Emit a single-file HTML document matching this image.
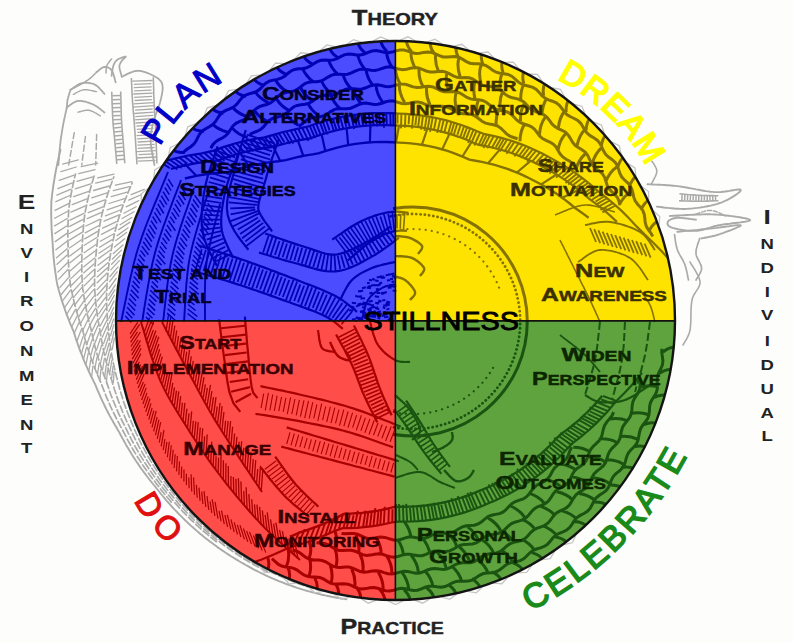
<!DOCTYPE html><html><head><meta charset="utf-8"><style>html,body{margin:0;padding:0;background:#fdfdfb;width:793px;height:643px;overflow:hidden}svg{display:block}text{font-family:"Liberation Sans",sans-serif}</style></head><body><svg width="793" height="643" viewBox="0 0 793 643"><defs><clipPath id="cc"><circle cx="395.50" cy="320.50" r="279.50"/></clipPath><clipPath id="q_blue"><path d="M395.50,320.50 L116.00,320.50 A279.50,279.50 0 0 1 395.50,41.00 Z"/></clipPath><clipPath id="q_yellow"><path d="M395.50,320.50 L395.50,41.00 A279.50,279.50 0 0 1 675.00,320.50 Z"/></clipPath><clipPath id="q_red"><path d="M395.50,320.50 L395.50,600.00 A279.50,279.50 0 0 1 116.00,320.50 Z"/></clipPath><clipPath id="q_green"><path d="M395.50,320.50 L675.00,320.50 A279.50,279.50 0 0 1 395.50,600.00 Z"/></clipPath><path id="p_PLAN" d="M160.14,146.80 A141.00,141.00 0 0 1 357.90,85.39"/><path id="p_DREAM" d="M556.77,79.14 A205.00,205.00 0 0 1 657.94,332.71"/><path id="p_DO" d="M134.14,500.21 A120.00,120.00 0 0 0 334.83,526.63"/><path id="p_CELEBRATE" d="M530.32,611.33 A360.00,360.00 0 0 0 706.29,166.87"/></defs><rect width="793" height="643" fill="#fdfdfb"/><path d="M346.4,599.2 L343.9,598.8 L341.5,598.5 L339.0,598.1 L336.6,597.7 L334.2,597.2 L331.7,596.8 L329.3,596.3 L326.9,595.8 L324.4,595.2 L322.0,594.7 L319.6,594.1 L317.2,593.5 L314.8,592.9 L312.4,592.3 L310.0,591.6 L307.6,591.0 L305.2,590.3 L302.9,589.6 L300.5,588.8 L298.1,588.1 L295.8,587.3 L293.4,586.5 L291.0,585.7 L288.7,584.8 L286.4,584.0 L284.0,583.1 L281.7,582.2 L279.4,581.3 L277.1,580.3 L274.8,579.3 L272.5,578.4 L270.2,577.4 L267.9,576.3 L265.7,575.3 L263.4,574.2 L261.2,573.1 L258.9,572.0 L256.7,570.9 L254.5,569.8 L252.3,568.6 L250.1,567.4 L247.9,566.2 L245.7,565.0 L243.5,563.7 L241.3,562.5 L239.2,561.2 L237.0,559.9 L234.9,558.6 L232.7,557.3 L230.6,556.0 L228.5,554.6 L226.4,553.2 L224.3,551.8 L222.2,550.4 L220.2,549.0 L218.1,547.6 L216.1,546.1 L214.0,544.6 L212.0,543.1 L210.0,541.6 L208.0,540.0 L206.0,538.5 L204.0,536.9 L202.1,535.3 L200.1,533.7 L198.2,532.1 L196.3,530.4 L194.4,528.7 L192.5,527.1 L190.6,525.4 L188.8,523.7 L186.9,521.9 L185.1,520.2 L183.3,518.4 L181.5,516.6 L179.7,514.8 L177.9,513.0 L176.2,511.2 L174.4,509.3 L172.7,507.5 L171.0,505.6 L169.3,503.7 L167.6,501.8 L165.9,499.9 L164.3,497.9 L162.7,496.0 L161.0,494.0 L159.5,492.0 L157.9,490.0 L156.3,488.0 L154.7,486.0 L153.0,484.0 L151.4,482.0 L149.8,480.0 L148.3,478.0 L146.7,476.0 L145.2,473.9 L143.6,471.8 L142.1,469.8 L140.6,467.7 L139.1,465.5 L137.7,463.4 L136.2,461.3 L134.8,459.1 L133.4,456.9 L132.0,454.7 L130.7,452.5 L129.3,450.3 L128.0,448.1 L126.7,445.9 L125.4,443.6 L124.1,441.3 L122.9,439.1 L121.6,436.8 L120.4,434.5 L119.2,432.1 L117.8,429.9 L116.5,427.6 L115.1,425.3 L113.8,423.0 L112.5,420.7 L111.2,418.4 L109.9,416.1 L108.7,413.7 L107.4,411.3 L106.2,408.9 L105.0,406.5 L103.9,404.1 L102.7,401.7 L101.6,399.3 L100.5,396.8 L99.4,394.3 L98.3,391.9 L97.2,389.4 L96.2,386.8 L95.2,384.3 L93.9,381.9 L92.7,379.4 L91.4,376.9 L90.2,374.3 L89.0,371.8 L87.8,369.2 L86.7,366.7 L85.5,364.1 L84.4,361.5 L83.3,358.8 L82.3,356.2 L81.2,353.5 L80.2,350.9 L79.2,348.2 L78.2,345.5 L77.3,342.8 L76.3,340.0 L75.4,337.3 L74.6,334.5 L73.7,331.7 L72.5,329.0 L71.3,326.2 L70.1,323.3 L69.0,320.5 L67.9,317.6 L66.8,314.8 L65.7,311.9 L64.7,308.9 L63.7,306.0 L62.7,303.1 L61.7,300.1 L60.8,297.1 L59.9,294.1 L59.0,291.1 L58.2,288.0 L57.4,285.0 L56.8,281.9 L56.3,278.9 L55.9,275.8 L55.4,272.7 L55.0,269.6 L54.6,266.5 L54.2,263.4 L53.9,260.3 L53.6,257.1 L53.3,254.0 L53.1,250.8 L52.9,247.7 L52.7,244.5 L52.5,241.3 L52.3,238.1 L52.0,234.9 L51.8,231.6 L51.6,228.4 L51.5,225.1 L51.4,221.8 L51.3,218.5 L51.2,215.2 L51.2,211.9 L51.2,208.6 L51.3,205.3 L51.3,202.0 L51.7,198.7 L52.0,195.5 L52.4,192.2 L52.9,189.0 L53.3,185.7 L53.8,182.5 L54.4,179.2 L54.9,175.9 L55.5,172.7 L56.1,169.4 L56.8,166.1 L57.4,162.9 L58.2,159.6 L58.9,156.3 L59.7,153.1 L60.5,149.8" fill="none" stroke="#aaaaaa" stroke-width="1.90" stroke-linecap="round" /><path d="M323.0,591.2 L320.1,590.5 L317.3,589.7 L314.5,588.9 L311.7,588.0 L308.9,587.2 L306.1,586.3 L303.3,585.3 L300.5,584.4 L297.7,583.4 L295.0,582.3 L292.2,581.3 L289.5,580.2 L286.8,579.1 L284.1,578.0 L281.4,576.8 L278.7,575.6 L276.0,574.4 L273.4,573.2 L270.7,571.9 L268.1,570.6 L265.5,569.2 L262.9,567.9 L260.3,566.5 L257.7,565.1 L255.1,563.6 L252.6,562.2 L250.0,560.7 L247.5,559.2 L245.0,557.6 L242.5,556.0 L240.1,554.4 L237.6,552.8 L235.2,551.2 L232.8,549.5 L230.3,547.8 L228.0,546.1 L225.6,544.3 L223.2,542.6 L220.9,540.8 L218.6,539.0 L216.3,537.1 L214.0,535.2 L211.8,533.3 L209.5,531.4 L207.3,529.5 L205.1,527.5 L203.0,525.5 L200.8,523.5 L198.7,521.5 L196.6,519.4 L194.5,517.4 L192.4,515.3 L190.4,513.1 L188.3,511.0 L186.3,508.8 L184.4,506.7 L182.4,504.4 L180.5,502.2 L178.6,500.0 L176.7,497.7 L174.8,495.4 L173.0,493.1 L171.1,490.8 L169.4,488.4 L167.6,486.1 L165.9,483.7 L164.1,481.3 L162.4,478.9 L160.7,476.5 L159.1,474.0 L157.4,471.6 L155.8,469.1 L154.2,466.6 L152.7,464.1 L151.1,461.6 L149.6,459.0 L148.1,456.5 L146.7,453.9 L145.3,451.3 L143.9,448.7 L142.5,446.1 L141.1,443.5 L139.8,440.8 L138.5,438.1 L137.3,435.5 L136.0,432.8 L134.8,430.1 L133.7,427.4 L132.5,424.6 L131.3,421.9 L130.2,419.2 L129.1,416.4 L128.0,413.7 L126.9,410.9 L125.9,408.1 L124.9,405.3 L123.9,402.5 L123.0,399.7 L122.1,396.8 L121.2,394.0 L120.4,391.1 L119.5,388.3 L118.8,385.4 L118.0,382.5 L117.3,379.6 L116.5,376.8 L115.8,373.9 L115.1,371.0 L114.4,368.0 L113.8,365.1 L113.1,362.2 L112.6,359.3 L112.0,356.3 L111.5,353.4 L111.0,350.4 L110.5,347.4 L110.1,344.5 L109.7,341.5 L109.3,338.5 L109.0,335.5 L108.7,332.5 L108.4,329.5 L108.1,326.5 L107.8,323.5 L107.5,320.5 L107.3,317.5 L107.1,314.5 L107.0,311.4 L106.8,308.4 L106.7,305.4 L106.7,302.3 L106.6,299.3 L106.6,296.2 L106.6,293.2 L106.7,290.1 L106.9,287.1 L107.0,284.1 L107.2,281.0 L107.5,278.0 L107.8,274.9 L108.1,271.9 L108.4,268.8 L108.8,265.8 L109.2,262.8 L109.6,259.7 L110.1,256.7 L110.6,253.7 L111.1,250.6 L111.7,247.6 L112.2,244.6 L112.8,241.6 L113.5,238.6 L114.1,235.5 L114.8,232.5 L115.6,229.5 L116.3,226.5 L117.1,223.6 L118.0,220.6 L118.9,217.6 L119.9,214.7 L120.8,211.8 L121.8,208.8 L122.9,205.9 L123.9,203.0 L125.0,200.1 L126.2,197.2 L127.3,194.3 L128.5,191.4 L129.7,188.6 L131.0,185.7 L132.3,182.9" fill="none" stroke="#aaaaaa" stroke-width="1.70" stroke-linecap="round" stroke-dasharray="7 3"/><path d="M267.5,571.7 L264.9,570.4 L262.2,569.1 L259.6,567.7 L257.0,566.3 L254.4,564.9 L251.9,563.4 L249.3,561.9 L246.8,560.4 L244.2,558.9 L241.7,557.3 L239.2,555.7 L236.7,554.1 L234.3,552.5 L231.8,550.8 L229.4,549.1 L227.0,547.4 L224.6,545.7 L222.2,543.9 L219.8,542.1 L217.5,540.3 L215.2,538.5 L212.9,536.6 L210.6,534.7 L208.3,532.8 L206.1,530.9 L203.8,528.9 L201.6,527.0 L199.4,525.0 L197.3,522.9 L195.1,520.9 L193.0,518.8 L190.9,516.7 L188.8,514.6 L186.7,512.5 L184.7,510.3 L182.7,508.1 L180.7,505.9 L178.7,503.7 L176.8,501.4 L174.9,499.2 L173.0,496.9 L171.1,494.6 L169.2,492.2 L167.4,489.9 L165.6,487.5 L163.8,485.1 L162.1,482.7 L160.3,480.4 L158.5,477.9 L156.8,475.5 L155.1,473.1 L153.4,470.6 L151.8,468.1 L150.2,465.6 L148.6,463.1 L147.0,460.5 L145.5,458.0 L143.9,455.4 L142.4,452.8 L141.0,450.2 L139.5,447.6 L138.1,444.9 L136.7,442.3 L135.4,439.6 L134.1,436.9 L132.8,434.2 L131.5,431.5 L130.2,428.7 L129.0,426.0 L127.7,423.3 L126.4,420.6 L125.2,417.8 L124.0,415.0 L122.8,412.3 L121.7,409.5 L120.6,406.7 L119.5,403.8 L118.4,401.0 L117.4,398.1 L116.4,395.3 L115.5,392.4 L114.5,389.5 L113.6,386.6 L112.7,383.7 L111.9,380.8 L110.9,377.9 L110.0,375.0 L109.1,372.0 L108.3,369.1 L107.4,366.1 L106.6,363.2 L105.9,360.2 L105.1,357.2 L104.4,354.2 L103.7,351.2 L103.1,348.1 L102.5,345.1 L101.9,342.1 L101.3,339.0 L100.8,335.9 L100.3,332.9 L99.8,329.8 L99.2,326.7 L98.7,323.6 L98.1,320.5 L97.6,317.4 L97.2,314.3 L96.7,311.1 L96.4,308.0 L96.0,304.8 L95.7,301.6 L95.4,298.5 L95.1,295.3 L94.9,292.1 L94.7,288.9 L94.6,285.7 L94.6,282.5 L94.6,279.3 L94.7,276.1 L94.8,272.9 L94.9,269.7 L95.1,266.4 L95.3,263.2 L95.5,260.0 L95.8,256.8 L96.1,253.6 L96.4,250.4 L96.7,247.1 L97.1,243.9 L97.4,240.6 L97.9,237.4 L98.3,234.2 L98.8,230.9 L99.3,227.7 L99.9,224.4 L100.5,221.2 L101.1,218.0 L101.9,214.8 L102.7,211.6 L103.5,208.4 L104.4,205.2 L105.3,202.1 L106.2,198.9 L107.2,195.7 L108.2,192.6 L109.3,189.5 L110.3,186.3 L111.5,183.2 L112.6,180.1 L113.8,177.0" fill="none" stroke="#aaaaaa" stroke-width="1.70" stroke-linecap="round" stroke-dasharray="7 3"/><path d="M216.4,541.7 L214.0,539.9 L211.7,538.0 L209.4,536.2 L207.1,534.2 L204.8,532.3 L202.5,530.4 L200.3,528.4 L198.0,526.4 L195.8,524.4 L193.7,522.3 L191.5,520.3 L189.4,518.2 L187.3,516.1 L185.2,513.9 L183.1,511.8 L181.0,509.6 L179.0,507.4 L177.0,505.1 L175.0,502.9 L173.1,500.6 L171.1,498.3 L169.2,496.0 L167.3,493.7 L165.5,491.3 L163.6,489.0 L161.8,486.6 L160.0,484.2 L158.2,481.8 L156.3,479.4 L154.6,477.0 L152.8,474.5 L151.1,472.1 L149.4,469.6 L147.7,467.1 L146.0,464.5 L144.4,462.0 L142.8,459.4 L141.2,456.9 L139.6,454.3 L138.1,451.7 L136.6,449.0 L135.1,446.4 L133.7,443.7 L132.2,441.0 L130.9,438.3 L129.5,435.6 L128.1,432.9 L126.8,430.1 L125.5,427.4 L124.1,424.7 L122.7,422.0 L121.3,419.2 L120.0,416.4 L118.7,413.6 L117.5,410.8 L116.3,408.0 L115.1,405.2 L113.9,402.3 L112.7,399.4 L111.6,396.6 L110.5,393.7 L109.5,390.8 L108.5,387.8 L107.5,384.9 L106.5,381.9 L105.4,379.0 L104.3,376.1 L103.2,373.1 L102.1,370.1 L101.1,367.1 L100.1,364.1 L99.2,361.1 L98.2,358.1 L97.3,355.0 L96.5,351.9 L95.6,348.8 L94.8,345.7 L94.1,342.6 L93.3,339.5 L92.6,336.4 L92.0,333.2 L91.2,330.1 L90.4,326.9 L89.5,323.7 L88.7,320.5 L88.0,317.3 L87.2,314.0 L86.5,310.8 L85.9,307.5 L85.3,304.2 L84.7,300.9 L84.1,297.6 L83.6,294.3 L83.1,291.0 L82.6,287.6 L82.4,284.3 L82.2,280.9 L82.0,277.6 L81.9,274.2 L81.8,270.8 L81.8,267.4 L81.8,264.1 L81.8,260.7 L81.9,257.3 L81.9,253.9 L82.1,250.4 L82.2,247.0 L82.3,243.6 L82.5,240.1 L82.7,236.7 L82.9,233.2 L83.2,229.8 L83.5,226.3 L83.8,222.8 L84.2,219.3 L84.6,215.9 L85.1,212.4 L85.8,209.0 L86.5,205.6 L87.2,202.1 L88.0,198.7 L88.8,195.3 L89.6,191.9 L90.5,188.5 L91.4,185.1 L92.4,181.7 L93.4,178.3 L94.4,174.9" fill="none" stroke="#aaaaaa" stroke-width="1.70" stroke-linecap="round" stroke-dasharray="7 3"/><path d="M171.3,502.1 L169.3,499.8 L167.3,497.5 L165.4,495.1 L163.5,492.8 L161.6,490.4 L159.8,488.0 L157.9,485.6 L156.0,483.2 L154.2,480.8 L152.3,478.4 L150.5,476.0 L148.7,473.5 L146.9,471.0 L145.2,468.5 L143.4,466.0 L141.7,463.5 L140.1,460.9 L138.4,458.3 L136.8,455.7 L135.2,453.1 L133.6,450.5 L132.1,447.8 L130.6,445.2 L129.1,442.5 L127.6,439.8 L126.2,437.0 L124.8,434.3 L123.4,431.5 L121.9,428.8 L120.4,426.1 L119.0,423.3 L117.5,420.6 L116.1,417.8 L114.7,415.0 L113.3,412.2 L111.9,409.4 L110.6,406.5 L109.3,403.6 L108.1,400.8 L106.8,397.8 L105.6,394.9 L104.5,392.0 L103.3,389.0 L102.2,386.1 L101.1,383.1 L99.8,380.1 L98.5,377.2 L97.2,374.2 L96.0,371.2 L94.8,368.1 L93.6,365.1 L92.5,362.0 L91.4,358.9 L90.3,355.8 L89.2,352.7 L88.2,349.5 L87.2,346.4 L86.3,343.2 L85.3,340.0 L84.4,336.8 L83.6,333.6 L82.7,330.3 L81.5,327.1 L80.4,323.8 L79.3,320.5 L78.3,317.2 L77.3,313.8 L76.3,310.5 L75.4,307.1 L74.5,303.7 L73.7,300.3 L72.8,296.8 L72.1,293.3 L71.3,289.9 L70.6,286.4 L70.2,282.9 L69.8,279.4 L69.4,275.8 L69.1,272.3 L68.9,268.8 L68.6,265.2 L68.4,261.7 L68.3,258.1 L68.2,254.5 L68.1,250.9 L68.1,247.3 L68.0,243.7 L67.9,240.0 L67.9,236.4 L67.9,232.7 L67.9,229.0 L68.0,225.4 L68.1,221.7 L68.3,218.0 L68.5,214.2 L68.7,210.5 L69.1,206.8 L69.6,203.2 L70.2,199.5 L70.8,195.9 L71.5,192.2 L72.2,188.6 L73.0,184.9 L73.8,181.3 L74.6,177.6 L75.5,174.0" fill="none" stroke="#aaaaaa" stroke-width="1.70" stroke-linecap="round" stroke-dasharray="7 3"/><path d="M114.4,338.2 L112.2,349.3 M114.0,331.5 L111.4,342.6 M113.7,324.9 L110.5,335.9 M113.6,319.0 L109.9,329.9 M113.6,312.8 L109.3,323.6 M113.7,307.6 L109.0,318.3 M114.0,301.1 L108.7,311.7 M114.4,295.2 L108.5,305.7 M114.8,289.9 L108.5,300.2 M115.4,284.9 L108.7,295.1 M116.2,278.5 L109.0,288.5 M117.2,271.8 L109.6,281.6 M118.1,266.9 L110.0,276.5 M119.3,260.6 L110.8,269.9 M120.5,255.1 L111.6,264.2 M121.6,250.1 L112.4,259.0 M123.0,244.9 L113.3,253.5 M124.7,238.8 L114.5,247.1 M126.5,232.5 L115.9,240.5 M128.1,227.8 L117.1,235.6 M130.0,222.1 L118.7,229.6 M131.7,217.5 L120.1,224.7 M134.0,211.7 L122.1,218.5 M136.1,206.7 L123.9,213.2 M138.8,200.7 L126.2,206.8 M141.7,194.5 L128.7,200.2 M144.3,189.3 L131.1,194.7 M114.1,371.4 L113.3,382.7 M113.0,366.2 L111.7,377.5 M111.8,360.5 L110.0,371.8 M110.7,354.5 L108.4,365.8 M109.8,349.0 L107.0,360.3 M109.0,343.5 L105.8,354.7 M108.3,338.0 L104.6,349.2 M107.7,332.3 L103.6,343.5 M107.1,326.3 L102.3,337.3 M106.6,320.7 L101.2,331.7 M106.2,315.0 L100.2,325.9 M105.8,308.5 L99.2,319.2 M105.7,303.5 L98.6,314.0 M105.6,297.4 L97.9,307.7 M105.7,290.9 L97.3,301.0 M106.0,285.3 L97.1,295.2 M106.3,279.9 L97.0,289.6 M106.9,273.3 L97.1,282.7 M107.5,267.8 L97.2,277.0 M108.2,262.5 L97.5,271.4 M109.1,256.7 L97.9,265.3 M110.2,250.3 L98.4,258.6 M111.1,245.2 L98.9,253.2 M112.2,239.6 L99.6,247.3 M113.5,234.0 L100.3,241.3 M115.1,227.4 L101.4,234.3 M116.6,221.7 L102.6,228.2 M118.7,215.1 L104.1,221.2 M120.4,210.0 L105.5,215.8 M122.3,204.6 L107.1,209.9 M124.5,198.6 L109.0,203.5 M127.1,192.2 L111.2,196.6 M129.5,186.6 L113.3,190.6 M131.9,181.6 L115.4,185.2 M107.5,370.2 L106.5,381.5 M106.2,365.3 L104.7,376.6 M104.4,358.6 L102.5,369.9 M103.0,352.3 L100.4,363.6 M101.5,345.5 L98.4,356.7 M100.3,338.7 L96.6,349.9 M99.2,331.8 L95.0,342.9 M98.0,325.6 L93.2,336.6 M97.1,320.5 L91.8,331.4 M96.1,313.8 L90.1,324.6 M95.4,308.3 L88.8,319.0 M94.8,302.5 L87.6,313.0 M94.2,295.9 L86.4,306.2 M93.7,289.6 L85.3,299.7 M93.6,283.5 L84.7,293.4 M93.7,276.2 L84.2,285.9 M93.9,269.7 L83.9,279.1 M94.3,263.7 L83.8,272.8 M94.7,257.9 L83.8,266.8 M95.4,250.8 L83.9,259.3 M96.0,244.5 L84.1,252.7 M96.8,237.5 L84.3,245.3 M97.7,231.4 L84.7,238.9 M98.6,225.7 L85.2,232.9 M99.8,219.3 L85.9,226.0 M101.5,212.3 L87.2,218.6 M102.9,206.8 L88.3,212.7 M104.9,199.9 L89.8,205.4 M107.1,192.8 L91.7,197.8 M109.4,186.0 L93.6,190.5 M111.9,179.2 L95.7,183.2 M114.0,174.1 L97.6,177.8 M100.9,369.6 L99.8,380.9 M99.0,364.0 L97.4,375.3 M97.0,357.4 L94.8,368.7 M95.2,351.1 L92.5,362.4 M93.7,345.2 L90.5,356.4 M92.3,339.3 L88.6,350.5 M90.9,333.1 L86.8,344.2 M89.2,326.4 L84.5,337.5 M87.7,320.3 L82.3,331.2 M86.1,313.5 L80.1,324.3 M84.8,307.2 L78.2,317.9 M83.7,301.3 L76.5,311.8 M82.6,294.7 L74.8,305.0 M81.7,287.7 L73.2,297.8 M81.3,282.1 L72.4,292.0 M81.0,275.6 L71.6,285.3 M80.8,269.2 L70.9,278.6 M80.8,261.6 L70.4,270.8 M81.0,253.9 L70.0,262.8 M81.2,247.5 L69.8,256.0 M81.5,239.8 L69.5,248.0 M82.0,232.4 L69.4,240.1 M82.5,226.1 L69.5,233.5 M83.2,219.3 L69.7,226.4 M83.9,213.4 L70.0,220.1 M85.4,205.9 L71.0,212.2 M86.9,198.8 L72.2,204.7 M88.8,191.3 L73.6,196.7 M90.7,183.9 L75.2,188.8 M92.8,176.9 L76.9,181.3 M95.1,169.7 L78.8,173.7 M97.7,163.1 L81.2,166.7 M92.9,366.1 L91.6,377.3 M90.7,359.9 L88.9,371.2 M88.3,353.1 L86.0,364.3 M86.5,347.4 L83.7,358.7 M84.8,341.8 L81.6,353.0 M83.2,336.1 L79.6,347.2 M81.3,329.5 L77.2,340.5 M79.0,322.5 L74.1,333.4 M77.0,316.2 L71.6,327.0 M75.2,309.9 L69.2,320.6 M73.5,303.4 L66.9,314.0 M71.9,297.0 L64.8,307.4 M70.4,290.4 L62.7,300.6 M69.4,284.5 L61.2,294.5 M68.6,277.6 L60.0,287.4 M67.9,269.5 L58.7,279.1 M67.5,262.7 L57.8,272.1 M67.2,255.1 L57.0,264.2 M67.1,248.8 L56.5,257.7 M67.0,241.3 L55.9,249.8 M66.9,233.4 L55.2,241.6 M67.0,225.8 L54.8,233.6 M67.3,218.5 L54.6,225.9 M67.7,211.2 L54.6,218.3 M68.6,203.6 L55.0,210.3 M69.9,195.5 L55.9,201.7 M71.1,189.1 L56.8,195.1 M72.4,182.9 L57.8,188.6 M74.2,175.2 L59.2,180.3 M76.3,167.0 L60.9,171.7 M78.3,159.8 L62.6,164.1" fill="none" stroke="#aaaaaa" stroke-width="1.30" stroke-linecap="round" /><path d="M111.6,75.8 L111.6,75.4 L111.7,75.0 L111.8,74.4 L111.9,73.8 L111.9,73.2 L112.0,72.5 L112.2,71.8 L112.3,71.0 L112.4,70.2 L112.5,69.5 L112.6,68.7 L112.8,68.0 L112.9,67.3 L113.1,66.7 L113.3,66.1 L113.4,65.5 L113.6,65.0 L113.8,64.6 L114.0,64.2 L114.1,63.7 L114.3,63.4 L114.5,63.0 L114.7,62.6 L114.9,62.3 L115.1,62.0 L115.3,61.7 L115.6,61.4 L115.9,61.1 L116.1,60.8 L116.5,60.5 L116.8,60.2 L117.2,59.9 L117.6,59.6 L118.1,59.3 L118.6,59.0 L119.2,58.7 L119.9,58.5 L120.5,58.2 L121.2,57.9 L121.8,57.6 L122.5,57.4 L123.1,57.2 L123.7,57.0 L124.2,56.8 L124.7,56.7 L125.1,56.6 L125.4,56.6 L125.6,56.6 L125.7,56.6 L125.7,56.7 L125.6,56.9 L125.4,57.1 L125.2,57.3 L125.0,57.6 L124.7,57.8 L124.4,58.2 L124.0,58.5 L123.7,58.8 L123.3,59.2 L123.0,59.5 L122.6,59.9 L122.3,60.2 L122.0,60.5 L121.8,60.9 L121.6,61.2 L121.4,61.5 L121.2,61.8 L121.0,62.1 L120.8,62.4 L120.6,62.7 L120.4,63.0 L120.2,63.3 L120.1,63.6 L119.9,64.0 L119.8,64.3 L119.6,64.7 L119.5,65.1 L119.5,65.5 L119.4,66.0 L119.4,66.5 L119.4,67.0 L119.5,67.6 L119.6,68.2 L119.7,68.9 L119.9,69.7 L120.1,70.4 L120.3,71.2 L120.5,71.9 L120.7,72.7 L120.9,73.4 L121.1,74.1 L121.3,74.8 L121.5,75.4 L121.6,75.9 L121.7,76.3 L121.8,76.7" fill="none" stroke="#aaaaaa" stroke-width="1.80" stroke-linecap="round" /><path d="M106.0,73.0 L106.0,72.7 L106.0,72.4 L106.0,72.0 L106.1,71.6 L106.1,71.2 L106.1,70.7 L106.1,70.2 L106.1,69.7 L106.2,69.1 L106.2,68.6 L106.3,68.0 L106.4,67.5 L106.5,67.0 L106.6,66.5 L106.7,66.0 L106.9,65.5 L107.1,65.1 L107.3,64.6 L107.6,64.1 L107.9,63.7 L108.2,63.2 L108.6,62.7 L108.9,62.2 L109.3,61.8 L109.6,61.3 L110.0,60.9 L110.3,60.5 L110.6,60.1 L110.9,59.8 L111.2,59.5 L111.4,59.2 L111.6,59.0" fill="none" stroke="#aaaaaa" stroke-width="1.50" stroke-linecap="round" /><path d="M96.6,72.1 L96.9,71.9 L97.2,71.6 L97.6,71.3 L98.0,71.0 L98.4,70.6 L98.9,70.2 L99.4,69.8 L99.9,69.3 L100.4,68.9 L101.0,68.5 L101.5,68.2 L102.1,67.8 L102.6,67.5 L103.1,67.3 L103.6,67.1 L104.1,67.0 L104.6,67.0 L105.1,67.0 L105.6,67.0 L106.0,67.0 L106.5,67.1 L107.1,67.2 L107.6,67.4 L108.0,67.5 L108.5,67.7 L109.0,68.0 L109.5,68.3 L109.9,68.6 L110.4,68.9 L110.8,69.3 L111.2,69.7 L111.6,70.2 L111.9,70.7 L112.3,71.4 L112.6,72.1 L112.9,72.9 L113.2,73.7 L113.5,74.6 L113.8,75.5 L114.1,76.4 L114.3,77.4 L114.6,78.3 L114.8,79.1 L115.0,79.9 L115.2,80.7 L115.4,81.3 L115.5,81.9 L115.7,82.3" fill="none" stroke="#aaaaaa" stroke-width="1.80" stroke-linecap="round" /><path d="M70.5,89.8 L70.9,89.5 L71.4,89.2 L71.9,88.8 L72.5,88.4 L73.1,88.0 L73.8,87.5 L74.5,86.9 L75.3,86.4 L76.1,85.9 L76.9,85.4 L77.7,84.9 L78.5,84.5 L79.3,84.1 L80.2,83.7 L80.9,83.5 L81.7,83.2 L82.5,83.1 L83.3,83.0 L84.1,82.9 L84.9,82.8 L85.8,82.8 L86.6,82.8 L87.5,82.8 L88.3,82.9 L89.2,83.0 L90.0,83.1 L90.9,83.3 L91.7,83.5 L92.5,83.7 L93.3,84.0 L94.0,84.2 L94.8,84.6 L95.5,84.9 L96.2,85.4 L96.9,85.9 L97.7,86.5 L98.4,87.2 L99.1,87.9 L99.8,88.6 L100.4,89.3 L101.1,90.0 L101.7,90.7 L102.3,91.4 L102.8,92.0 L103.3,92.6 L103.8,93.1 L104.1,93.5 L104.5,93.9" fill="none" stroke="#aaaaaa" stroke-width="1.80" stroke-linecap="round" /><path d="M73.3,94.4 L73.7,94.3 L74.1,94.0 L74.6,93.8 L75.1,93.4 L75.7,93.1 L76.3,92.7 L76.9,92.4 L77.6,92.0 L78.3,91.6 L79.1,91.3 L79.8,90.9 L80.6,90.6 L81.3,90.3 L82.1,90.1 L82.8,89.9 L83.6,89.8 L84.3,89.7 L85.2,89.7 L86.0,89.7 L87.0,89.8 L87.9,89.9 L88.8,90.1 L89.8,90.2 L90.8,90.4 L91.7,90.6 L92.6,90.8 L93.4,91.0 L94.2,91.2 L95.0,91.3 L95.6,91.5 L96.2,91.6 L96.6,91.6" fill="none" stroke="#aaaaaa" stroke-width="1.40" stroke-linecap="round" /><path d="M66.8,107.5 L67.2,107.3 L67.6,106.9 L68.1,106.5 L68.7,106.1 L69.3,105.6 L70.0,105.1 L70.7,104.6 L71.5,104.0 L72.2,103.5 L73.0,103.0 L73.8,102.5 L74.7,102.1 L75.5,101.7 L76.3,101.4 L77.2,101.1 L78.0,101.0 L78.8,100.9 L79.7,100.9 L80.6,100.9 L81.5,101.0 L82.5,101.1 L83.5,101.3 L84.4,101.5 L85.4,101.7 L86.4,102.0 L87.4,102.3 L88.4,102.6 L89.3,102.9 L90.3,103.3 L91.2,103.6 L92.1,104.0 L92.9,104.3 L93.7,104.7 L94.6,105.2 L95.5,105.7 L96.3,106.2 L97.2,106.8 L98.0,107.4 L98.8,108.0 L99.6,108.6 L100.4,109.3 L101.1,109.8 L101.8,110.4 L102.5,110.9 L103.1,111.4 L103.6,111.9 L104.1,112.2 L104.5,112.5" fill="none" stroke="#aaaaaa" stroke-width="1.80" stroke-linecap="round" /><path d="M78.0,112.2 L78.4,112.1 L78.8,112.0 L79.4,111.8 L80.0,111.7 L80.7,111.5 L81.4,111.3 L82.1,111.1 L82.9,110.9 L83.7,110.7 L84.5,110.5 L85.3,110.4 L86.1,110.3 L86.9,110.2 L87.7,110.2 L88.5,110.2 L89.2,110.3 L89.9,110.5 L90.7,110.7 L91.4,111.0 L92.2,111.3 L93.1,111.7 L93.9,112.1 L94.7,112.5 L95.5,113.0 L96.3,113.4 L97.0,113.9 L97.7,114.3 L98.4,114.7 L99.0,115.1 L99.5,115.4 L100.0,115.7 L100.4,115.9" fill="none" stroke="#aaaaaa" stroke-width="1.40" stroke-linecap="round" /><path d="M66.8,107.5 L66.7,108.1 L66.5,108.7 L66.4,109.5 L66.2,110.3 L66.0,111.2 L65.8,112.2 L65.5,113.2 L65.3,114.3 L65.1,115.4 L64.8,116.5 L64.6,117.7 L64.3,118.8 L64.1,120.0 L63.9,121.1 L63.6,122.3 L63.4,123.4 L63.2,124.4 L63.0,125.5 L62.8,126.6 L62.6,127.7 L62.4,128.8 L62.2,130.0 L62.1,131.1 L61.9,132.2 L61.7,133.4 L61.5,134.6 L61.3,135.8 L61.1,137.0 L60.9,138.2 L60.8,139.5 L60.6,140.7 L60.4,142.0 L60.3,143.4 L60.1,144.8 L60.0,146.4 L59.8,148.0 L59.7,149.6 L59.5,151.3 L59.4,153.0 L59.2,154.7 L59.1,156.3 L59.0,157.8 L58.9,159.3 L58.7,160.7 L58.6,162.0 L58.5,163.2 L58.5,164.2 L58.4,165.0" fill="none" stroke="#aaaaaa" stroke-width="1.80" stroke-linecap="round" /><path d="M70.5,89.8 L70.4,90.1 L70.3,90.5 L70.1,91.0 L70.0,91.5 L69.8,92.0 L69.6,92.6 L69.4,93.3 L69.2,93.9 L69.0,94.6 L68.8,95.3 L68.6,95.9 L68.4,96.6 L68.2,97.3 L68.0,97.9 L67.9,98.5 L67.7,99.1 L67.6,99.7 L67.5,100.3 L67.4,100.9 L67.3,101.5 L67.3,102.1 L67.2,102.7 L67.1,103.3 L67.1,103.9 L67.0,104.5 L67.0,105.0 L67.0,105.5 L66.9,106.0 L66.9,106.5 L66.9,106.9 L66.8,107.2 L66.8,107.5" fill="none" stroke="#aaaaaa" stroke-width="1.80" stroke-linecap="round" /><path d="M96.6,72.1 L96.3,72.3 L96.0,72.7 L95.6,73.1 L95.1,73.5 L94.7,74.0 L94.2,74.5 L93.6,75.1 L93.0,75.7 L92.4,76.3 L91.8,76.9 L91.1,77.5 L90.4,78.1 L89.7,78.7 L88.9,79.3 L88.1,79.9 L87.3,80.4 L86.4,81.0 L85.5,81.6 L84.4,82.3 L83.2,82.9 L82.1,83.6 L80.8,84.3 L79.6,85.0 L78.3,85.6 L77.1,86.3 L75.9,86.9 L74.8,87.5 L73.7,88.1 L72.7,88.6 L71.9,89.1 L71.1,89.4 L70.5,89.8" fill="none" stroke="#aaaaaa" stroke-width="1.60" stroke-linecap="round" /><path d="M121.8,76.7 L122.4,76.5 L123.0,76.2 L123.8,75.8 L124.7,75.4 L125.6,74.9 L126.6,74.4 L127.6,73.9 L128.7,73.4 L129.8,72.9 L131.0,72.4 L132.1,72.0 L133.3,71.6 L134.4,71.2 L135.6,71.0 L136.6,70.8 L137.7,70.7 L138.7,70.8 L139.8,70.9 L140.9,71.0 L142.0,71.3 L143.2,71.6 L144.3,71.9 L145.5,72.3 L146.6,72.7 L147.7,73.1 L148.8,73.5 L149.9,74.0 L150.9,74.5 L151.9,75.0 L152.8,75.4 L153.7,75.9 L154.5,76.3 L155.2,76.8 L156.0,77.2 L156.6,77.6 L157.3,78.0 L157.9,78.4 L158.5,78.9 L159.0,79.3 L159.6,79.8 L160.0,80.3 L160.5,80.8 L160.9,81.3 L161.2,81.9 L161.6,82.5 L161.9,83.1 L162.1,83.8 L162.3,84.6 L162.5,85.3 L162.6,86.2 L162.6,87.0 L162.7,87.9 L162.6,88.9 L162.6,89.8 L162.5,90.8 L162.3,91.9 L162.2,92.9 L162.0,94.0 L161.8,95.1 L161.5,96.3 L161.3,97.4 L161.0,98.6 L160.7,99.8 L160.4,101.0 L160.1,102.2 L159.7,103.5 L159.3,104.9 L158.9,106.2 L158.4,107.7 L157.8,109.1 L157.3,110.6 L156.7,112.0 L156.2,113.5 L155.6,115.0 L155.1,116.4 L154.6,117.9 L154.1,119.3 L153.7,120.7 L153.3,122.1 L153.0,123.4 L152.7,124.6 L152.4,125.8 L152.2,127.0 L151.9,128.2 L151.7,129.3 L151.5,130.4 L151.3,131.5 L151.2,132.7 L151.0,133.8 L150.9,134.9 L150.8,136.0 L150.8,137.1 L150.7,138.3 L150.7,139.5 L150.7,140.7 L150.7,142.0 L150.8,143.4 L151.0,144.8 L151.1,146.4 L151.3,148.0 L151.6,149.6 L151.9,151.3 L152.2,153.0 L152.5,154.7 L152.8,156.3 L153.1,157.8 L153.4,159.3 L153.7,160.7 L153.9,162.0 L154.1,163.2 L154.3,164.2 L154.5,165.0" fill="none" stroke="#aaaaaa" stroke-width="1.80" stroke-linecap="round" /><path d="M132.3,81.2 L152.7,80.5 M133.9,84.3 L151.3,83.7 M133.8,87.6 L151.6,86.9 M134.1,90.8 L151.5,90.1 M133.3,94.0 L152.6,93.2 M134.2,97.3 L152.0,96.4 M134.6,100.5 L151.9,99.6 M133.6,103.8 L153.3,102.6 M133.1,107.1 L154.1,105.7 M135.1,110.2 L152.6,109.0 M134.3,113.5 L153.8,112.1 M135.3,116.6 L153.3,115.4 M134.4,119.9 L154.6,118.5 M135.4,123.0 L154.1,121.8 M136.4,126.1 L153.5,125.0 M136.8,129.3 L153.5,128.3 M137.5,132.4 L153.1,131.5 M136.5,135.6 L154.5,134.7 M137.0,138.8 L154.4,137.9 M137.7,142.0 L154.0,141.1 M137.4,145.2 L154.6,144.3 M137.7,148.4 L154.6,147.5 M136.8,151.6 L155.9,150.7 M138.5,154.7 L154.4,153.9 M136.6,158.0 L156.7,157.0 M138.1,161.2 L155.5,160.3" fill="none" stroke="#aaaaaa" stroke-width="1.30" /><path d="M131.4,78.0 L131.5,81.2 L131.7,84.4 L131.8,87.6 L132.0,90.9 L132.1,94.1 L132.3,97.3 L132.5,100.6 L132.7,103.9 L133.0,107.1 L133.2,110.4 L133.5,113.6 L133.8,116.7 L134.0,119.9 L134.3,123.1 L134.5,126.2 L134.7,129.4 L135.0,132.5 L135.2,135.7 L135.4,138.9 L135.6,142.1 L135.8,145.3 L136.0,148.5 L136.2,151.6 L136.4,154.8 L136.6,158.0 L136.8,161.2 L137.0,164.4 M153.3,77.3 L153.4,80.5 L153.5,83.7 L153.6,86.8 L153.7,90.0 L153.7,93.2 L153.8,96.3 L154.0,99.5 L154.1,102.6 L154.3,105.7 L154.4,108.9 L154.6,112.1 L154.8,115.2 L155.0,118.5 L155.2,121.7 L155.4,124.9 L155.5,128.2 L155.7,131.4 L155.8,134.6 L155.9,137.8 L156.1,141.0 L156.2,144.2 L156.3,147.4 L156.5,150.6 L156.6,153.8 L156.7,157.0 L156.8,160.2 L156.9,163.4" fill="none" stroke="#aaaaaa" stroke-width="1.60" /><path d="M112.3,95.8 L120.4,95.5 M112.6,99.7 L120.3,99.5 M112.3,103.8 L120.8,103.5 M112.5,107.8 L120.9,107.5 M112.9,111.8 L120.7,111.5 M113.2,115.8 L120.7,115.5 M113.2,119.8 L121.2,119.4 M113.3,123.9 L121.5,123.3 M114.1,127.9 L121.3,127.3 M114.2,131.9 L122.0,131.2 M114.3,136.0 L122.6,135.2 M115.2,139.9 L122.4,139.2 M115.8,143.8 L122.5,143.3 M116.2,147.8 L122.8,147.3 M116.0,151.8 L123.6,151.2 M116.4,155.8 L123.8,155.2 M116.5,159.8 L124.4,159.2" fill="none" stroke="#aaaaaa" stroke-width="1.50" /><path d="M111.7,91.8 L111.9,95.8 L112.0,99.8 L112.1,103.8 L112.3,107.8 L112.5,111.8 L112.6,115.8 L112.9,119.9 L113.1,123.9 L113.5,128.0 L113.9,132.0 L114.3,136.0 L114.7,139.9 L115.0,143.9 L115.4,147.9 L115.7,151.8 L116.1,155.8 L116.4,159.8 L116.8,163.8 M120.7,91.5 L120.8,95.5 L120.9,99.5 L121.0,103.5 L121.1,107.5 L121.2,111.5 L121.3,115.4 L121.5,119.4 L121.7,123.3 L122.0,127.3 L122.3,131.2 L122.6,135.2 L123.0,139.2 L123.3,143.2 L123.6,147.2 L123.9,151.2 L124.2,155.2 L124.5,159.2 L124.8,163.2" fill="none" stroke="#aaaaaa" stroke-width="1.60" /><path d="M74.3,132.7 L74.2,133.3 L74.0,133.9 L73.9,134.7 L73.8,135.6 L73.6,136.5 L73.4,137.6 L73.2,138.6 L73.0,139.7 L72.8,140.9 L72.6,142.1 L72.4,143.2 L72.2,144.4 L72.0,145.6 L71.8,146.7 L71.6,147.8 L71.5,148.8 L71.3,149.9 L71.1,151.0 L70.9,152.1 L70.7,153.2 L70.5,154.4 L70.3,155.6 L70.1,156.8 L69.9,157.9 L69.7,159.0 L69.5,160.1 L69.3,161.1 L69.2,162.1 L69.0,162.9 L68.9,163.7 L68.8,164.4 L68.7,165.0" fill="none" stroke="#aaaaaa" stroke-width="1.50" stroke-linecap="round" stroke-dasharray="6 3"/><path d="M85.4,136.4 L85.4,136.9 L85.3,137.5 L85.2,138.2 L85.1,139.0 L85.0,139.8 L84.9,140.7 L84.8,141.7 L84.6,142.7 L84.5,143.7 L84.4,144.7 L84.2,145.8 L84.1,146.8 L84.0,147.8 L83.8,148.8 L83.7,149.8 L83.6,150.7 L83.5,151.6 L83.3,152.6 L83.2,153.6 L83.1,154.6 L82.9,155.6 L82.8,156.7 L82.7,157.7 L82.5,158.7 L82.4,159.7 L82.3,160.7 L82.2,161.6 L82.1,162.4 L82.0,163.2 L81.9,163.9 L81.8,164.5 L81.7,165.0" fill="none" stroke="#aaaaaa" stroke-width="1.50" stroke-linecap="round" stroke-dasharray="6 3"/><path d="M96.6,134.6 L96.6,135.1 L96.6,135.7 L96.6,136.5 L96.6,137.3 L96.5,138.2 L96.5,139.1 L96.5,140.2 L96.4,141.2 L96.4,142.3 L96.4,143.4 L96.3,144.5 L96.3,145.6 L96.3,146.7 L96.2,147.8 L96.2,148.8 L96.2,149.8 L96.1,150.7 L96.1,151.8 L96.1,152.8 L96.0,153.9 L96.0,155.0 L96.0,156.1 L95.9,157.2 L95.9,158.3 L95.9,159.4 L95.8,160.4 L95.8,161.3 L95.8,162.2 L95.8,163.1 L95.7,163.8 L95.7,164.4 L95.7,165.0" fill="none" stroke="#aaaaaa" stroke-width="1.50" stroke-linecap="round" stroke-dasharray="6 3"/><path d="M141.3,202.0 L141.3,193.8 L147.8,188.8 M153.8,178.1 L154.7,170.0 L161.6,165.7 M168.6,155.6 L170.2,147.6 L177.5,144.0 M185.4,134.6 L187.8,126.8 L195.4,123.9 M204.2,115.4 L207.3,107.8 L215.2,105.6 M224.7,98.0 L228.6,90.7 L236.6,89.3 M246.9,82.6 L251.4,75.8 L259.5,75.2 M270.3,69.5 L275.5,63.1 L283.7,63.3 M295.0,58.6 L300.7,52.8 L308.8,53.7 M320.5,50.2 L326.8,44.9 L334.8,46.6 M346.8,44.3 L353.5,39.6 L361.3,42.1 M373.5,40.9 L380.6,36.9 L388.2,40.1 M400.4,40.0 L407.9,36.8 L415.1,40.7 M427.3,41.8 L435.0,39.3 L441.8,43.8 M453.8,46.1 L461.8,44.3 L468.1,49.6 M479.8,53.0 L488.0,52.0 L493.7,57.8 M505.1,62.3 L513.3,62.1 L518.5,68.4 M529.3,74.0 L537.5,74.5 L542.1,81.3 M552.4,88.0 L560.4,89.3 L564.3,96.5 M573.9,104.1 L581.8,106.2 L585.0,113.7 M593.8,122.2 L601.5,125.0 L604.0,132.8 M611.9,142.1 L619.3,145.7 L621.0,153.7 M628.0,163.6 L635.0,167.9 L635.9,176.0 M642.0,186.7 L648.5,191.6 L648.7,199.7 M653.7,210.9 L659.7,216.4 L659.1,224.6 M575.8,535.4 L572.3,542.8 L564.3,544.5 M554.4,551.7 L550.2,558.7 L542.1,559.7 M531.5,565.8 L526.6,572.4 L518.5,572.6 M507.3,577.7 L501.9,583.8 L493.7,583.2 M482.2,587.3 L476.2,592.8 L468.1,591.4 M456.2,594.4 L449.7,599.3 L441.8,597.2 M429.7,598.9 L422.7,603.2 L415.1,600.3 M402.8,600.9 L395.5,604.5 L388.2,600.9 M375.9,600.3 L368.3,603.2 L361.3,598.9 M349.2,597.2 L341.3,599.3 L334.8,594.4 M322.9,591.4 L314.8,592.8 L308.8,587.3 M297.3,583.2 L289.1,583.8 L283.7,577.7 M272.5,572.6 L264.4,572.4 L259.5,565.8" fill="none" stroke="#c4c4c4" stroke-width="1.30" stroke-linecap="round" /><path d="M647.5,184.3 L648.5,184.3 L649.7,184.4 L651.1,184.4 L652.7,184.5 L654.3,184.6 L656.1,184.6 L658.1,184.7 L660.1,184.8 L662.1,184.9 L664.3,185.0 L666.4,185.2 L668.6,185.3 L670.8,185.5 L673.0,185.7 L675.2,185.9 L677.3,186.1 L679.5,186.4 L681.7,186.7 L684.0,187.1 L686.4,187.5 L688.8,188.0 L691.3,188.4 L693.7,188.9 L696.2,189.4 L698.7,189.8 L701.1,190.3 L703.5,190.7 L705.9,191.1 L708.2,191.4 L710.4,191.7 L712.6,191.9 L714.6,192.1 L716.7,192.1 L718.7,192.1 L720.9,192.0 L723.0,191.7 L725.2,191.5 L727.3,191.2 L729.3,190.9 L731.3,190.5 L733.1,190.2 L734.9,189.9 L736.4,189.7 L737.8,189.5 L738.9,189.4 L739.8,189.5 L740.4,189.6 L740.7,189.9 L740.8,190.3 L740.5,190.8 L740.0,191.5 L739.2,192.2 L738.2,193.0 L737.0,193.9 L735.7,194.9 L734.2,195.9 L732.6,196.9 L730.9,197.9 L729.2,198.8 L727.4,199.8 L725.5,200.7 L723.7,201.5 L722.0,202.3 L720.2,202.9 L718.5,203.5 L716.6,204.1 L714.7,204.6 L712.7,205.1 L710.6,205.6 L708.4,206.0 L706.2,206.5 L704.0,206.9 L701.8,207.2 L699.5,207.6 L697.3,207.9 L695.1,208.1 L692.9,208.4 L690.8,208.6 L688.7,208.7 L686.6,208.9 L684.6,209.0 L682.5,209.0 L680.4,208.9 L678.2,208.8 L676.0,208.7 L673.9,208.5 L671.7,208.3 L669.6,208.1 L667.6,207.9 L665.6,207.7 L663.8,207.5 L662.1,207.2 L660.5,207.0 L659.1,206.9 L657.8,206.7 L656.8,206.6" fill="none" stroke="#aaaaaa" stroke-width="1.90" stroke-linecap="round" /><path d="M681.8,200.8 L682.1,194.2 M684.6,200.3 L684.9,194.9 M687.4,200.4 L687.7,195.1 M690.2,200.5 L690.5,195.3 M693.1,200.5 L693.3,195.5 M695.9,201.0 L696.1,195.3 M698.7,201.1 L698.8,195.3 M701.5,201.1 L701.6,195.4 M704.3,200.6 L704.4,196.0 M707.2,201.0 L707.2,195.6 M710.0,200.6 L709.9,196.1 M712.8,200.5 L712.7,196.0 M715.6,200.7 L715.5,195.9" fill="none" stroke="#aaaaaa" stroke-width="1.50" /><path d="M679.0,200.8 L681.8,200.9 L684.6,201.0 L687.4,201.0 L690.2,201.1 L693.0,201.2 L695.8,201.2 L698.7,201.2 L701.5,201.2 L704.3,201.2 L707.2,201.1 L710.0,201.0 L712.8,200.9 L715.6,200.8 L718.4,200.7 M679.4,193.8 L682.2,194.0 L684.9,194.2 L687.7,194.5 L690.5,194.7 L693.3,194.9 L696.1,195.1 L698.8,195.2 L701.6,195.4 L704.4,195.5 L707.2,195.5 L709.9,195.6 L712.7,195.6 L715.5,195.7 L718.3,195.7" fill="none" stroke="#aaaaaa" stroke-width="1.60" /><path d="M669.9,216.0 L671.4,215.9 L673.4,215.8 L675.6,215.7 L678.1,215.5 L680.8,215.4 L683.8,215.2 L686.8,215.0 L690.0,214.9 L693.3,214.7 L696.6,214.6 L699.8,214.5 L703.0,214.4 L706.2,214.3 L709.2,214.3 L712.0,214.4 L714.6,214.5 L717.2,214.6 L720.0,214.8 L722.8,215.1 L725.7,215.4 L728.6,215.7 L731.6,216.1 L734.4,216.5 L737.1,216.9 L739.7,217.3 L742.1,217.7 L744.3,218.1 L746.2,218.5 L747.7,218.9 L748.9,219.3 L749.7,219.7 L750.1,220.1 L749.9,220.4 L749.3,220.7 L748.2,221.1 L746.6,221.4 L744.8,221.7 L742.7,222.0 L740.3,222.4 L737.8,222.7 L735.2,223.0 L732.5,223.3 L729.8,223.7 L727.2,224.0 L724.7,224.3 L722.3,224.6 L720.2,225.0 L718.4,225.3 L716.7,225.7 L715.1,226.0 L713.6,226.5 L712.1,226.9 L710.7,227.3 L709.4,227.8 L708.0,228.2 L706.7,228.6 L705.4,229.0 L704.1,229.4 L702.8,229.8 L701.5,230.1 L700.2,230.4 L698.8,230.6 L697.4,230.8 L696.0,230.9 L694.5,230.9 L692.9,230.9 L691.2,230.9 L689.6,230.7 L687.8,230.6 L686.1,230.4 L684.4,230.2 L682.7,229.9 L681.0,229.7 L679.4,229.4 L677.8,229.1 L676.4,228.8 L675.0,228.5 L673.8,228.1 L672.7,227.8 L671.7,227.5 L670.9,227.2 L670.2,226.9 L669.6,226.5 L669.0,226.2 L668.6,225.8 L668.2,225.4 L668.0,225.0 L667.8,224.6 L667.6,224.2 L667.5,223.8 L667.5,223.4 L667.5,223.0 L667.6,222.6 L667.7,222.2 L667.8,221.9 L668.0,221.6 L668.2,221.3 L668.5,221.0 L668.8,220.6 L669.2,220.3 L669.6,220.0 L670.1,219.8 L670.7,219.5 L671.2,219.2 L671.9,219.0 L672.6,218.7 L673.3,218.5 L674.0,218.3 L674.8,218.2 L675.6,218.0 L676.5,217.9 L677.3,217.8 L678.3,217.8 L679.3,217.8 L680.5,217.9 L681.8,218.0 L683.1,218.1 L684.4,218.2 L685.8,218.4 L687.2,218.5 L688.6,218.7 L689.9,218.9 L691.2,219.1 L692.4,219.2 L693.5,219.4 L694.5,219.5 L695.3,219.6 L696.0,219.7" fill="none" stroke="#aaaaaa" stroke-width="1.90" stroke-linecap="round" /><path d="M696.0,214.1 L696.5,214.0 L697.1,213.8 L697.8,213.5 L698.7,213.2 L699.5,212.9 L700.5,212.6 L701.5,212.2 L702.5,211.9 L703.6,211.6 L704.6,211.3 L705.7,211.0 L706.8,210.7 L707.9,210.5 L708.9,210.4 L709.9,210.4 L710.9,210.4 L711.9,210.5 L712.9,210.7 L713.9,210.9 L715.0,211.2 L716.1,211.6 L717.1,212.0 L718.2,212.5 L719.3,212.9 L720.3,213.4 L721.3,213.9 L722.3,214.3 L723.1,214.7 L723.9,215.1 L724.7,215.5 L725.3,215.8 L725.8,216.0" fill="none" stroke="#aaaaaa" stroke-width="1.50" stroke-linecap="round" stroke-dasharray="4 2"/><path d="M677.3,231.8 L678.6,231.7 L680.3,231.5 L682.2,231.3 L684.3,231.1 L686.6,230.9 L689.1,230.7 L691.7,230.4 L694.3,230.1 L697.1,229.9 L699.8,229.6 L702.5,229.3 L705.2,229.1 L707.8,228.8 L710.2,228.5 L712.5,228.3 L714.6,228.1 L716.7,227.9 L718.8,227.6 L720.9,227.3 L723.1,227.0 L725.2,226.7 L727.4,226.4 L729.4,226.2 L731.4,225.9 L733.3,225.6 L735.0,225.4 L736.5,225.2 L737.9,225.1 L739.0,225.1 L739.9,225.1 L740.5,225.1 L740.7,225.3 L740.7,225.6 L740.2,225.9 L739.5,226.4 L738.4,226.9 L737.1,227.5 L735.7,228.2 L734.0,228.8 L732.2,229.6 L730.4,230.3 L728.5,231.0 L726.6,231.7 L724.7,232.4 L722.9,233.1 L721.2,233.6 L719.7,234.2 L718.4,234.6 L717.1,235.0 L715.9,235.4 L714.6,235.7 L713.4,236.0 L712.1,236.3 L710.9,236.6 L709.7,236.8 L708.6,237.1 L707.4,237.3 L706.4,237.5 L705.4,237.7 L704.5,237.8 L703.6,238.0 L702.8,238.1 L702.1,238.2 L701.6,238.4" fill="none" stroke="#aaaaaa" stroke-width="1.90" stroke-linecap="round" /><path d="M674.5,234.6 L674.6,235.1 L674.7,235.8 L674.8,236.5 L674.9,237.3 L675.0,238.2 L675.2,239.1 L675.3,240.1 L675.4,241.2 L675.6,242.2 L675.8,243.3 L676.0,244.4 L676.2,245.5 L676.5,246.5 L676.7,247.6 L677.0,248.6 L677.3,249.6 L677.7,250.5 L678.0,251.4 L678.5,252.3 L678.9,253.3 L679.4,254.2 L679.9,255.1 L680.5,256.1 L681.0,257.0 L681.5,257.9 L682.0,258.8 L682.6,259.8 L683.1,260.7 L683.5,261.6 L684.0,262.6 L684.4,263.5 L684.8,264.5 L685.1,265.5 L685.4,266.5 L685.8,267.6 L686.1,268.7 L686.3,269.8 L686.6,270.9 L686.9,272.0 L687.1,273.2 L687.3,274.2 L687.5,275.3 L687.7,276.2 L687.9,277.2 L688.1,278.0 L688.2,278.8 L688.4,279.4 L688.5,280.0" fill="none" stroke="#aaaaaa" stroke-width="1.70" stroke-linecap="round" /><path d="M699.7,238.4 L699.6,238.9 L699.3,239.5 L699.1,240.2 L698.8,241.0 L698.5,241.9 L698.2,242.9 L697.8,243.9 L697.5,244.9 L697.2,246.0 L696.9,247.0 L696.6,248.1 L696.3,249.2 L696.1,250.3 L696.0,251.3 L696.0,252.3 L696.0,253.3 L696.1,254.2 L696.3,255.2 L696.6,256.1 L697.0,257.1 L697.4,258.1 L697.9,259.0 L698.4,260.0 L698.9,260.9 L699.4,261.9 L699.9,262.8 L700.3,263.8 L700.7,264.7 L701.1,265.6 L701.3,266.5 L701.5,267.4 L701.6,268.2 L701.5,269.1 L701.4,269.9 L701.1,270.8 L700.8,271.6 L700.5,272.5 L700.0,273.4 L699.6,274.2 L699.1,275.0 L698.6,275.8 L698.2,276.6 L697.7,277.3 L697.2,277.9 L696.8,278.5 L696.5,279.1 L696.2,279.6 L696.0,280.0" fill="none" stroke="#aaaaaa" stroke-width="1.70" stroke-linecap="round" /><path d="M651.2,160.0 L651.4,160.4 L651.7,160.9 L652.1,161.4 L652.5,162.0 L652.9,162.6 L653.4,163.3 L653.9,164.0 L654.3,164.8 L654.8,165.6 L655.3,166.4 L655.7,167.2 L656.0,168.0 L656.4,168.8 L656.6,169.6 L656.7,170.4 L656.8,171.2 L656.7,172.0 L656.6,172.8 L656.4,173.7 L656.0,174.6 L655.7,175.6 L655.3,176.5 L654.8,177.5 L654.3,178.4 L653.9,179.3 L653.4,180.2 L652.9,181.1 L652.5,181.9 L652.1,182.6 L651.7,183.2 L651.4,183.8 L651.2,184.3" fill="none" stroke="#aaaaaa" stroke-width="1.60" stroke-linecap="round" /><path d="M690.0,262.0 L690.4,262.7 L690.9,263.6 L691.5,264.5 L692.2,265.6 L693.0,266.8 L693.8,268.1 L694.7,269.5 L695.5,270.9 L696.3,272.3 L697.1,273.8 L697.9,275.2 L698.5,276.7 L699.1,278.1 L699.5,279.5 L699.9,280.8 L700.0,282.0 L700.0,283.2 L699.8,284.3 L699.5,285.3 L699.1,286.4 L698.6,287.4 L698.1,288.4 L697.4,289.4 L696.8,290.4 L696.1,291.4 L695.4,292.5 L694.7,293.6 L694.0,294.7 L693.4,295.9 L692.8,297.2 L692.4,298.5 L692.0,300.0 L691.7,301.6 L691.5,303.3 L691.3,305.1 L691.2,307.0 L691.1,309.0 L691.0,311.0 L691.0,313.1 L690.9,315.2 L690.9,317.3 L690.9,319.3 L690.8,321.3 L690.7,323.3 L690.6,325.1 L690.4,326.9 L690.3,328.5 L690.0,330.0 L689.7,331.4 L689.3,332.7 L688.9,334.0 L688.4,335.2 L687.9,336.3 L687.4,337.4 L686.9,338.4 L686.4,339.4 L685.8,340.3 L685.3,341.1 L684.8,341.9 L684.4,342.7 L684.0,343.3 L683.6,343.9 L683.3,344.5 L683.0,345.0" fill="none" stroke="#aaaaaa" stroke-width="1.60" stroke-linecap="round" /><path d="M395.50,320.50 L116.00,320.50 A279.50,279.50 0 0 1 395.50,41.00 Z" fill="#4b4bff"/><path d="M395.50,320.50 L395.50,41.00 A279.50,279.50 0 0 1 675.00,320.50 Z" fill="#ffe300"/><path d="M395.50,320.50 L395.50,600.00 A279.50,279.50 0 0 1 116.00,320.50 Z" fill="#ff4d4a"/><path d="M395.50,320.50 L675.00,320.50 A279.50,279.50 0 0 1 395.50,600.00 Z" fill="#5fa33f"/><defs><g id="art"><path d="M183.8,151.9 L186.9,149.3 L190.4,147.0 L193.5,144.5 L195.9,141.3 L197.7,137.6 L199.6,134.0 L202.3,131.0 L205.7,128.7 L209.3,126.8 L212.7,124.6 L215.4,121.7 L217.6,118.2 L219.9,114.8 L222.8,112.1 L226.5,110.2 L230.3,108.7 L233.9,106.8 L236.8,104.2 L239.4,100.9 L242.0,97.8 L245.2,95.4 L249.0,93.9 L253.0,92.8 L256.8,91.3 L260.0,89.0 L262.8,86.0 L265.8,83.1 L269.3,81.1 L273.2,80.1 L277.3,79.4 L281.1,78.2 L284.6,76.2 L287.7,73.5 L291.0,71.0 L294.6,69.4 L298.6,68.7 L302.8,68.5 L306.7,67.7 L310.3,66.0 L313.7,63.7 L317.2,61.6 L321.0,60.3 L325.1,60.1 L329.3,60.3 L333.2,59.9 L337.0,58.6 L340.6,56.6 L344.3,54.9 L348.3,54.1 L352.3,54.3 L356.4,54.9 L360.4,54.9 L364.3,54.0 L368.1,52.4 L372.0,51.0 L376.0,50.6 L380.0,51.3 L384.0,52.3 L388.0,52.7 L392.0,52.1 L395.9,50.9 L399.9,50.0 L403.9,50.0 L407.8,51.1 L411.7,52.5 L415.7,53.4 L419.6,53.2 L423.7,52.4 L427.8,51.9 L431.7,52.4 L435.5,53.9 L439.3,55.7 L443.1,56.9 L447.1,57.1 L451.2,56.7 L455.3,56.6 L459.2,57.5 L462.8,59.4 L466.3,61.6 L470.0,63.2 L474.0,63.8 L478.1,63.8 L482.2,64.2 L485.9,65.5 L489.4,67.8 L492.7,70.3 L496.1,72.2 L500.0,73.2 L504.1,73.7 L508.1,74.5 L511.7,76.2 L514.9,78.8 L517.9,81.7 L521.2,83.9 L525.0,85.3 L529.0,86.2 L532.9,87.4 L536.3,89.5 L539.2,92.4 L541.9,95.6 L544.9,98.1 L548.5,99.9 L552.5,101.2 L556.2,102.8 L559.4,105.3 L561.9,108.5 L564.3,111.9 L567.1,114.7 L570.5,116.8 L574.2,118.5 L577.8,120.5 L580.7,123.3 L582.9,126.8 L584.9,130.4 L587.4,133.5 L590.5,135.9 L594.1,138.0 L597.5,140.4 L600.0,143.5 L601.8,147.1 L603.5,150.9 L605.6,154.3 L608.5,157.0 L611.9,159.4 L615.0,162.2 L617.2,165.5 L618.6,169.4 L619.8,173.3 L621.6,176.8 L624.3,179.8 L627.4,182.6 L630.1,185.6 L631.9,189.2 L632.9,193.2 L633.8,197.2 L635.2,200.9 L637.6,204.2 L640.4,207.2 L642.8,210.5 L644.2,214.2 L644.8,218.3 L645.2,222.4 L646.3,226.3 L648.3,229.7 L650.8,233.1 L652.8,236.6 M210.8,148.3 L212.8,144.7 L215.6,141.8 L219.0,139.6 L222.7,137.8 L226.0,135.5 L228.6,132.5 L230.8,129.0 L233.2,125.7 L236.3,123.1 L239.9,121.4 L243.8,119.9 L247.3,118.0 L250.2,115.3 L252.8,112.1 L255.6,109.1 L258.9,106.9 L262.7,105.5 L266.7,104.5 L270.4,103.0 L273.6,100.6 L276.5,97.7 L279.6,95.0 L283.1,93.2 L287.1,92.3 L291.2,91.7 L295.1,90.6 L298.5,88.6 L301.7,86.0 L305.0,83.6 L308.8,82.2 L312.8,81.8 L317.0,81.7 L320.9,81.0 L324.5,79.3 L328.0,77.1 L331.6,75.1 L335.4,74.2 L339.5,74.2 L343.7,74.5 L347.6,74.2 L351.4,72.9 L355.1,71.1 L358.9,69.6 L362.8,69.1 L366.9,69.6 L371.0,70.3 L374.9,70.4 L378.8,69.6 L382.7,68.2 L386.6,67.1 L390.6,67.0 L394.6,68.0 L398.6,69.1 L402.5,69.7 L406.5,69.2 L410.5,68.3 L414.5,67.6 L418.5,68.0 L422.3,69.4 L426.1,71.0 L430.0,72.0 L434.0,71.9 L438.1,71.4 L442.2,71.2 L446.0,72.1 L449.7,73.9 L453.3,75.9 L457.0,77.3 L461.0,77.7 L465.2,77.6 L469.2,77.8 L473.0,79.1 L476.4,81.4 L479.8,83.7 L483.4,85.5 L487.3,86.3 L491.4,86.6 L495.4,87.4 L499.0,89.1 L502.2,91.7 L505.3,94.4 L508.6,96.5 L512.4,97.8 L516.5,98.6 L520.4,99.8 L523.8,101.9 L526.6,104.8 L529.4,107.9 L532.5,110.3 L536.2,111.9 L540.1,113.2 L543.9,114.8 L547.0,117.3 L549.5,120.5 L551.9,123.9 L554.8,126.6 L558.2,128.6 L562.0,130.3 L565.5,132.3 L568.3,135.1 L570.5,138.6 L572.5,142.2 L575.1,145.3 L578.3,147.6 L581.9,149.7 L585.2,152.1 L587.6,155.2 L589.4,159.0 L591.0,162.7 L593.2,166.0 L596.2,168.7 L599.6,171.2 L602.5,173.9 L604.6,177.3 L605.9,181.2 L607.1,185.1 L609.0,188.6 L611.7,191.6 L614.7,194.4 L617.4,197.5 L619.0,201.1 L619.9,205.2 M249.7,134.3 L253.4,132.6 L257.3,131.2 L260.8,129.3 L263.7,126.6 L266.3,123.4 L269.1,120.5 L272.6,118.4 L276.5,117.3 L280.5,116.3 L284.1,114.8 L287.3,112.4 L290.3,109.6 L293.5,107.0 L297.1,105.4 L301.1,104.7 L305.2,104.3 L309.0,103.2 L312.5,101.2 L315.7,98.7 L319.2,96.5 L323.0,95.4 L327.1,95.2 L331.2,95.2 L335.1,94.5 L338.8,92.9 L342.3,90.8 L346.0,89.1 L349.9,88.5 L354.0,88.7 L358.1,89.2 L362.0,89.0 L365.8,87.8 L369.6,86.1 L373.5,84.9 L377.5,84.7 L381.5,85.5 L385.5,86.4 L389.4,86.7 L393.3,85.9 L397.3,84.7 L401.3,83.9 L405.2,84.2 L409.1,85.5 L413.0,86.9 L416.9,87.6 L420.9,87.3 L424.9,86.5 L429.0,86.2 L432.9,87.0 L436.6,88.7 L440.3,90.6 L444.1,91.7 L448.1,91.8 L452.2,91.6 L456.2,91.8 L460.0,93.0 L463.5,95.2 L466.9,97.4 L470.6,98.9 L474.5,99.6 L478.6,99.8 L482.6,100.5 L486.2,102.2 L489.4,104.7 L492.6,107.3 L496.0,109.3 L499.9,110.3 L504.0,111.0 L507.8,112.2 L511.2,114.3 L514.1,117.3 L516.9,120.2 L520.1,122.5 L523.8,124.0 L527.8,125.2 L531.5,126.8 L534.6,129.4 L537.1,132.6 L539.6,135.9 L542.5,138.5 L546.0,140.4 L549.8,142.0 L553.3,144.1 L556.0,147.0 L558.1,150.5 L560.2,154.0 L562.8,157.0 L566.1,159.3 L569.7,161.3 L572.9,163.8 L575.3,167.0 M298.7,126.4 L302.0,124.0 L305.1,121.2 L308.4,118.9 L312.1,117.5 L316.2,117.0 L320.3,116.7 L324.1,115.6 L327.7,113.7 L331.1,111.3 L334.7,109.4 L338.6,108.6 L342.7,108.7 L346.8,108.8 L350.7,108.2 L354.4,106.7 L358.1,104.8 L361.9,103.4 L365.9,103.1 L370.0,103.7 L374.0,104.4 L378.0,104.3 L381.9,103.2 L385.8,101.8 L389.7,100.9 L393.7,101.1 L397.7,102.2 L401.6,103.4 L405.5,103.8 L409.5,103.2 L413.6,102.3 L417.6,101.9 L421.5,102.7 L425.3,104.3 L429.1,105.9 L432.9,106.8 L437.0,106.8 L441.1,106.3 L445.1,106.5 L448.9,107.8 L452.5,109.8 L456.0,111.9 L459.7,113.3 L463.7,113.7 L467.9,113.8 L471.9,114.5 L475.5,116.3 L478.8,118.8 L482.0,121.3 L485.5,123.1 L489.4,124.0 L493.5,124.7 L497.4,125.9 L500.7,128.1 L503.7,131.0 L506.5,133.9 L509.8,136.1 L513.6,137.5 L517.6,138.7 M171.9,149.4 Q176.8,153.1 185.2,152.3 M191.0,127.0 Q195.5,131.2 203.9,131.3 M211.2,107.8 Q215.2,112.4 223.5,113.3 M234.3,89.8 Q237.8,94.8 246.0,96.5 M253.0,77.7 Q256.1,83.0 264.2,85.4 M275.8,65.7 Q278.4,71.2 286.2,74.4 M303.1,54.6 Q305.1,60.4 312.5,64.3 M329.1,46.9 Q330.6,52.9 337.6,57.5 M357.7,41.5 Q358.5,47.6 365.1,52.9 M380.6,39.4 Q380.9,45.5 387.0,51.3 M406.4,39.2 Q406.1,45.3 411.6,51.7 M430.3,41.2 Q429.5,47.2 434.5,54.0 M456.2,45.6 Q454.9,51.6 459.2,58.8 M481.9,52.6 Q480.0,58.4 483.6,66.0 M502.7,60.2 Q500.4,65.9 503.4,73.7 M524.3,70.2 Q521.5,75.6 523.8,83.7 M545.4,82.2 Q542.1,87.4 543.7,95.7 M569.3,99.1 Q565.5,103.9 566.2,112.2 M590.5,117.5 Q586.3,121.9 586.1,130.3 M606.6,134.3 Q602.1,138.3 601.2,146.7 M624.3,156.5 Q619.3,160.0 617.6,168.3 M637.0,175.8 Q631.7,179.0 629.4,187.1 M649.7,199.5 Q644.2,202.2 641.1,210.0 M658.7,220.8 Q653.0,222.9 649.3,230.5 M211.9,123.5 Q217.7,129.7 227.7,132.1 M232.0,106.5 Q237.2,113.3 246.8,116.6 M254.6,91.0 Q259.0,98.3 268.3,102.6 M275.3,79.5 Q279.1,87.1 287.9,92.3 M302.3,67.8 Q305.3,75.8 313.5,81.9 M328.5,59.7 Q330.7,67.9 338.2,74.8 M357.6,53.9 Q358.8,62.3 365.6,70.0 M386.5,51.3 Q386.8,59.8 392.7,68.2 M411.0,51.6 Q410.5,60.1 415.6,69.0 M435.7,54.2 Q434.5,62.6 438.7,71.9 M458.7,58.7 Q456.7,67.0 460.1,76.6 M481.0,65.1 Q478.3,73.2 480.9,83.1 M502.1,73.2 Q498.8,81.0 500.5,91.1 M524.1,83.9 Q520.0,91.4 520.9,101.6 M547.0,97.8 Q542.2,104.9 542.0,115.1 M564.7,111.0 Q559.4,117.6 558.4,127.8 M585.1,129.3 Q579.2,135.3 577.1,145.4 M601.9,147.5 Q595.4,153.0 592.4,162.8 M616.7,167.0 Q609.8,171.8 605.9,181.3 M631.7,191.2 Q624.3,195.3 619.5,204.3 M232.3,128.1 Q237.8,134.6 247.6,137.5 M254.8,111.1 Q259.6,118.1 269.0,122.1 M276.2,98.2 Q280.2,105.7 289.2,110.6 M300.3,86.9 Q303.5,94.7 311.9,100.6 M321.1,79.4 Q323.6,87.5 331.5,94.1 M342.9,73.7 Q344.6,82.1 351.9,89.3 M366.1,69.9 Q367.1,78.4 373.6,86.2 M395.5,68.2 Q395.5,76.7 401.1,85.3 M419.1,69.3 Q418.3,77.8 423.1,86.8 M446.8,73.5 Q445.1,81.8 448.8,91.3 M475.1,81.1 Q472.5,89.2 475.1,99.1 M502.5,92.0 Q498.9,99.7 500.3,109.8 M524.4,103.6 Q520.0,110.9 520.5,121.1 M545.1,117.3 Q540.1,124.2 539.5,134.4 M565.3,133.9 Q559.6,140.2 558.0,150.3 M585.1,154.0 Q578.7,159.6 575.9,169.5 M285.3,112.6 Q289.2,120.1 298.2,125.1 M307.5,102.3 Q310.7,110.2 319.0,116.0 M330.7,94.3 Q333.1,102.5 340.8,109.2 M353.6,89.0 Q355.1,97.3 362.1,104.8 M376.1,86.0 Q376.8,94.5 383.0,102.6 M399.3,85.2 Q399.2,93.7 404.6,102.4 M426.7,87.3 Q425.6,95.7 430.0,104.9 M456.0,93.1 Q453.8,101.3 457.0,111.0 M478.2,100.2 Q475.2,108.2 477.4,118.2 M498.9,109.1 Q495.1,116.8 496.4,126.9 M524.7,123.9 Q520.1,131.0 520.0,141.2" fill="none" stroke="currentColor" stroke-width="3.00" /><path d="M160.9,162.2 L174.6,158.5 L188.3,155.5 L201.9,153.4 L213.7,150.6 L223.9,146.9 L234.1,143.7 L244.2,141.1 L254.3,139.0 L264.4,137.4 L273.4,134.9 L282.1,132.3 L290.9,130.2 L299.6,128.4 L308.0,126.5 L316.0,123.7 L324.0,121.2 L332.1,119.0 L340.3,117.2 L348.5,115.7 L356.7,114.6 L365.0,113.7 L373.2,113.2 L381.5,113.0 L389.7,113.2 L397.9,113.5 L406.1,113.9 L414.2,114.6 L422.4,115.6 L430.4,116.9 L438.4,118.5 L446.4,120.4 L454.2,122.7 L462.0,125.3 L469.6,128.1 L477.1,131.3 L484.8,134.2 L493.1,135.9 L501.5,137.9 L509.8,140.3 L518.2,143.1 L526.5,146.3 L534.7,149.9 L542.8,153.8 L550.9,158.1 L559.0,162.6 L567.0,167.5 L575.0,172.7 L582.7,178.4 L590.3,184.4 L597.7,190.8 L605.7,197.2 L613.7,203.8 L621.6,210.9 L629.2,218.4 L636.5,226.4 L644.5,234.4 L653.3,242.7 L661.9,251.4 L670.2,260.8 L678.1,270.7" fill="none" stroke="currentColor" stroke-width="2.20" /><path d="M170.8,169.0 L182.9,165.9 L195.0,163.4 L206.9,161.7 L218.5,160.4 L227.3,157.1 L236.1,154.3 L244.9,151.9 L253.7,149.9 L262.4,148.3 L271.1,147.1 L278.9,145.2 L286.4,143.1 L293.8,141.3 L301.3,139.8 L308.7,138.6 L315.6,136.5 L322.4,134.2 L329.2,132.2 L336.1,130.4 L343.0,128.9 L349.9,127.6 L356.9,126.6 L363.9,125.8 L370.8,125.3 L377.8,125.1 L384.8,125.0 L391.8,125.3 L398.7,125.6 L405.6,125.9 L412.5,126.4 L419.3,127.2 L426.2,128.3 L433.0,129.6 L439.7,131.1 L446.4,132.9 L453.0,134.9 L459.5,137.1 L465.9,139.6 L472.3,142.3 L478.7,144.9 L485.8,146.1 L492.9,147.7 L500.0,149.5 L507.2,151.6 L514.3,154.0 L521.3,156.7 L528.4,159.7 L535.3,163.0 L542.2,166.6 L549.2,170.3 L556.2,174.3 L563.0,178.6 L569.8,183.2 L576.4,188.1 L582.9,193.3 L589.3,198.8 L596.4,204.1 L603.4,209.7 L610.2,215.6 L616.9,221.9" fill="none" stroke="currentColor" stroke-width="2.20" /><path d="M184.9,178.5 L196.3,175.9 L207.6,174.0 L218.7,172.7 L229.8,172.0 L238.1,169.4 L246.2,167.0 L254.3,165.0 L262.4,163.4 L270.4,162.1 L278.3,161.2 L285.8,160.1 L292.5,158.3 L299.3,156.7 L306.0,155.4 L312.7,154.4 L319.1,153.2 L325.1,151.1 L331.1,149.3 L337.2,147.6 L343.3,146.1 L349.4,144.9 L355.6,143.9 L361.8,143.1 L367.9,142.5 L374.1,142.1 L380.3,142.0 L386.5,142.0 L392.6,142.3 L398.7,142.6 L404.8,142.9 L410.9,143.4 L417.0,144.1 L423.0,145.0 L429.0,146.1 L434.9,147.4 L440.8,149.0 L446.7,150.7 L452.4,152.6 L458.1,154.8 L463.7,157.1 L469.3,159.6 L475.5,160.8 L481.8,161.9 L488.2,163.3 L494.6,164.9 L501.0,166.8 L507.4,168.9 L513.8,171.3 L520.1,173.9 L526.4,176.8 L532.6,180.0 L539.0,183.2 L545.3,186.7 L551.5,190.5 L557.7,194.6 L563.7,198.9 L569.7,203.5 L575.5,208.3 L582.1,212.9 L588.6,217.8" fill="none" stroke="currentColor" stroke-width="2.40" /><path d="M160.9,162.2 L169.9,168.3 M165.1,161.0 L177.3,169.4 M169.8,159.7 L181.6,168.1 M174.3,158.5 L185.1,166.4 M179.0,157.4 L187.2,163.6 M184.2,156.3 L194.4,164.2 M189.4,155.3 L198.6,162.7 M193.9,154.5 L204.9,163.6 M198.8,153.8 L208.1,161.6 M204.4,153.0 L212.0,159.7 M209.3,152.4 L219.1,161.3 M213.6,150.7 L224.5,160.9 M216.7,149.5 L225.5,157.9 M220.6,148.1 L230.8,158.1 M224.6,146.7 L232.0,154.2 M228.2,145.5 L237.1,154.8 M231.6,144.5 L240.8,154.4 M236.2,143.2 L244.9,152.9 M240.8,141.9 L247.6,149.8 M244.8,141.0 L253.6,151.5 M249.5,139.9 L257.4,149.7 M253.3,139.2 L261.6,149.7 M258.1,138.3 L265.6,148.3 M261.7,137.7 L269.2,147.9 M265.1,137.3 L272.0,146.9 M268.8,136.4 L276.5,147.5 M272.8,135.1 L278.8,144.2 M275.6,134.2 L282.3,144.6 M278.9,133.2 L284.3,142.0 M282.9,132.1 L290.0,144.0 M286.2,131.3 L293.3,143.6 M290.5,130.3 L297.1,142.1 M294.3,129.4 L300.2,140.6 M298.2,128.7 L303.6,139.4 M302.3,128.0 L308.5,140.9 M306.3,127.2 L311.9,139.4 M309.7,125.9 L315.1,138.1 M312.8,124.8 L317.6,136.1 M316.2,123.6 L321.1,135.9 M319.9,122.4 L324.2,133.7 M322.8,121.6 L327.5,134.5 M326.2,120.6 L329.6,130.4 M330.2,119.5 L334.0,131.2 M333.0,118.8 L336.3,129.4 M336.4,118.0 L339.8,129.7 M340.2,117.2 L343.3,128.7 M343.8,116.5 L346.3,126.7 M347.1,115.9 L350.1,128.6 M351.2,115.3 L354.2,129.0 M354.5,114.8 L356.6,125.5 M357.4,114.5 L359.4,125.1 M361.3,114.1 L363.4,126.7 M364.6,113.8 L366.2,124.7 M368.8,113.5 L370.6,127.6 M372.3,113.3 L373.7,125.4 M375.9,113.1 L377.2,126.4 M379.1,113.1 L380.0,125.1 M383.1,113.0 L384.0,127.7 M386.3,113.1 L386.8,124.0 M390.3,113.2 L390.6,124.9 M393.3,113.4 L393.4,124.8 M397.6,113.5 L397.5,123.5 M401.4,113.7 L401.0,128.4 M405.5,113.9 L404.9,127.7 M409.3,114.1 L408.6,124.3 M413.2,114.5 L412.0,128.7 M416.5,114.8 L415.4,125.2 M419.6,115.2 L418.2,127.0 M423.0,115.6 L421.1,129.7 M426.7,116.2 L424.5,130.8 M429.7,116.7 L427.6,129.7 M432.7,117.3 L430.0,131.8 M436.3,118.0 L434.1,129.1 M440.4,118.9 L437.2,132.9 M443.8,119.8 L440.6,132.8 M447.4,120.7 L444.2,132.9 M451.4,121.9 L447.9,134.5 M454.3,122.7 L451.0,133.7 M457.2,123.7 L453.7,135.0 M460.7,124.8 L457.4,134.7 M464.1,126.0 L460.2,137.2 M467.2,127.2 L462.9,138.7 M470.2,128.4 L466.1,138.8 M473.5,129.7 L468.1,143.0 M476.5,131.0 L471.3,143.1 M480.1,132.6 L474.3,145.5 M483.8,134.0 L478.8,144.6 M486.8,134.6 L481.7,145.0 M489.9,135.2 L483.4,148.0 M493.7,136.0 L487.2,148.2 M497.9,137.0 L491.8,148.0 M501.3,137.8 L495.7,147.4 M504.2,138.6 L498.4,148.4 M507.1,139.5 L499.7,151.6 M511.4,140.8 L505.1,150.5 M514.5,141.8 L506.5,153.8 M518.7,143.3 L512.0,152.9 M522.6,144.8 L514.3,156.4 M526.3,146.2 L518.3,156.8 M529.4,147.5 L521.2,158.1 M532.9,149.1 L524.6,159.4 M536.2,150.5 L527.0,161.6 M540.0,152.4 L532.3,161.3 M543.7,154.3 L535.2,163.8 M547.5,156.2 L539.0,165.4 M550.8,158.1 L542.5,166.9 M554.5,160.1 L545.3,169.3 M557.2,161.6 L546.6,172.0 M560.1,163.2 L549.4,173.5 M563.8,165.5 L554.5,174.0 M567.3,167.7 L556.1,177.6 M570.4,169.7 L562.4,176.6 M573.7,171.9 L563.8,180.1 M576.7,174.0 L565.5,183.1 M579.3,175.9 L568.2,184.6 M582.2,178.0 L571.8,185.9 M585.6,180.6 L574.2,189.1 M588.3,182.7 L577.2,190.6 M590.8,184.8 L579.6,192.5 M593.3,186.9 L582.9,194.0 M595.6,188.9 L586.9,194.6 M598.2,191.3 L589.6,196.8 M601.4,193.9 L591.5,200.0 M604.4,196.2 L595.6,201.5 M607.0,198.3 L596.9,204.1 M609.8,200.5 L599.6,206.2 M613.0,203.2 L600.5,210.0 M615.6,205.5 L602.4,212.3" fill="none" stroke="currentColor" stroke-width="1.90" /><path d="M196.5,175.9 L184.5,163.5 M223.0,172.4 L212.0,159.0 M248.9,166.3 L239.4,151.9 M280.2,161.0 L272.7,145.5 M303.3,155.9 L297.6,139.6 M325.3,151.1 L321.6,134.2 M348.2,145.2 L346.6,128.0 M369.9,142.4 L370.4,125.1 M396.0,142.5 L399.0,125.5 M421.9,144.8 L427.4,128.5 M442.2,149.4 L449.5,133.8 M462.4,156.5 L471.6,141.9 M488.1,163.3 L499.3,150.1 M516.9,172.5 L530.0,161.3 M541.2,184.4 L555.7,175.0 M562.3,197.8 L577.8,190.2" fill="none" stroke="currentColor" stroke-width="2.20" /><path d="M661.9,348.7 L661.8,352.6 L662.4,356.7 L662.9,360.8 L662.5,364.7 L661.0,368.5 L659.1,372.2 L657.6,375.9 L657.1,379.8 L657.3,384.0 L657.4,388.1 L656.5,392.0 L654.7,395.6 L652.4,399.0 L650.5,402.6 L649.6,406.5 L649.4,410.6 L649.0,414.7 L647.8,418.4 L645.5,421.8 L642.9,425.0 L640.7,428.4 L639.5,432.2 L638.8,436.2 L638.0,440.3 L636.4,443.9 L633.8,447.0 L630.8,449.9 L628.3,453.1 L626.7,456.7 L625.6,460.7 L624.4,464.6 L622.4,468.0 L619.5,470.9 L616.2,473.4 L613.4,476.3 L611.5,479.8 L610.0,483.6 L608.4,487.4 L606.0,490.6 L602.8,493.1 L599.3,495.3 L596.2,497.9 L593.9,501.1 L592.1,504.8 L590.1,508.4 L587.4,511.3 L583.9,513.5 L580.2,515.4 L576.9,517.6 L574.3,520.6 L572.1,524.1 L569.7,527.5 L566.7,530.0 L563.0,531.8 L559.2,533.3 L555.7,535.2 L552.8,538.0 L550.2,541.2 L547.5,544.3 L544.2,546.5 L540.4,547.9 L536.4,549.0 L532.7,550.6 L529.6,553.0 L526.7,556.0 L523.7,558.8 L520.2,560.6 L516.2,561.6 L512.1,562.3 L508.3,563.5 L504.9,565.6 L501.8,568.3 L498.5,570.7 L494.8,572.2 L490.7,572.7 L486.6,573.0 L482.7,573.8 L479.1,575.6 L475.7,577.9 L472.2,580.0 L468.4,581.1 L464.3,581.2 L460.1,581.0 L456.2,581.4 L452.5,582.8 L448.8,584.8 L445.1,586.5 L441.2,587.2 L437.1,586.8 L433.0,586.3 L429.0,586.3 L425.2,587.3 L421.3,588.9 L417.5,590.2 L413.5,590.4 L409.5,589.7 L405.5,588.7 L401.5,588.3 L397.6,589.0 L393.6,590.2 L389.6,591.0 L385.6,590.8 L381.7,589.7 L377.8,588.3 L373.9,587.5 L369.9,587.8 L365.8,588.6 L361.8,589.0 L357.9,588.4 L354.1,586.8 L350.3,585.0 L346.5,583.9 L342.5,583.8 L338.4,584.1 L334.3,584.1 L330.5,583.1 L326.9,581.1 L323.4,578.9 L319.7,577.5 L315.7,576.9 L311.6,576.9 L307.5,576.4 L303.8,575.0 L300.4,572.6 L297.2,570.1 L293.7,568.3 L289.8,567.4 L285.6,566.9 L281.7,566.0 L278.1,564.2 L275.0,561.5 L272.0,558.7 M640.0,378.8 L640.2,382.9 L640.2,387.0 L639.1,390.8 L637.1,394.4 L634.8,397.8 L633.0,401.4 L632.2,405.2 L631.9,409.4 L631.4,413.4 L629.9,417.1 L627.6,420.4 L624.9,423.6 L622.7,426.9 L621.5,430.7 L620.7,434.8 L619.8,438.8 L617.9,442.3 L615.2,445.3 L612.2,448.1 L609.7,451.2 L608.0,454.8 L606.9,458.8 L605.5,462.7 L603.2,465.9 L600.1,468.6 L596.8,471.1 L594.0,473.9 L592.0,477.4 L590.4,481.2 L588.6,484.8 L586.0,487.8 L582.6,490.2 L579.1,492.3 L576.0,494.8 L573.6,498.0 L571.6,501.6 L569.4,505.0 L566.5,507.7 L562.9,509.7 L559.1,511.4 L555.8,513.5 L553.1,516.5 L550.7,519.9 L548.1,523.0 L544.9,525.3 L541.1,526.9 L537.2,528.2 L533.6,530.0 L530.6,532.6 L527.9,535.7 L525.0,538.6 L521.5,540.5 L517.5,541.6 L513.5,542.4 L509.8,543.9 L506.5,546.2 L503.5,549.0 L500.3,551.5 L496.6,553.0 L492.5,553.6 L488.4,554.0 L484.6,555.1 L481.1,557.0 L477.8,559.5 L474.3,561.6 L470.5,562.7 L466.4,562.8 L462.2,562.8 L458.3,563.4 L454.7,565.0 L451.1,567.1 L447.4,568.8 L443.4,569.4 L439.3,569.1 L435.2,568.6 L431.3,568.8 L427.5,570.0 L423.7,571.7 L419.8,573.0 L415.8,573.2 L411.8,572.4 L407.8,571.5 L403.8,571.3 L399.9,572.1 L395.9,573.3 L392.0,574.1 L388.0,573.8 L384.1,572.6 L380.2,571.3 L376.2,570.7 L372.3,571.0 L368.2,571.8 L364.1,572.2 L360.2,571.5 L356.5,569.8 L352.7,568.1 L348.9,567.1 L344.9,567.0 L340.8,567.4 L336.7,567.2 L332.9,566.1 L329.3,564.0 L325.8,561.9 L322.1,560.5 L318.2,560.0 L314.0,559.9 L310.0,559.3 L306.3,557.7 L303.0,555.3 L299.8,552.8 L296.2,551.0 L292.3,550.1 M613.6,412.1 L612.0,415.8 L609.4,419.0 L606.7,422.1 L604.6,425.4 L603.3,429.2 L602.5,433.2 L601.4,437.1 L599.3,440.5 L596.4,443.4 L593.3,446.2 L590.8,449.2 L589.1,452.9 L587.8,456.8 L586.2,460.5 L583.8,463.6 L580.5,466.2 L577.1,468.5 L574.3,471.3 L572.2,474.7 L570.5,478.5 L568.5,482.0 L565.6,484.8 L562.1,486.9 L558.5,488.8 L555.3,491.3 L552.9,494.4 L550.7,498.0 L548.3,501.2 L545.1,503.6 L541.4,505.3 L537.5,506.8 L534.2,508.9 L531.4,511.7 L528.8,515.0 L526.0,517.9 L522.5,519.9 L518.6,521.1 L514.7,522.2 L511.1,523.9 L508.0,526.4 L505.0,529.3 L501.9,531.9 L498.2,533.5 L494.2,534.2 L490.1,534.8 L486.4,536.1 L483.0,538.2 L479.7,540.8 L476.3,542.9 L472.5,544.0 L468.4,544.3 L464.3,544.4 L460.4,545.2 L456.8,547.0 L453.3,549.2 L449.6,550.9 L445.7,551.5 L441.6,551.3 L437.5,550.9 L433.5,551.3 L429.8,552.7 L426.0,554.4 L422.1,555.7 L418.2,555.8 L414.1,555.1 L410.1,554.3 L406.1,554.2 L402.2,555.1 L398.3,556.4 L394.3,557.2 L390.3,556.8 L386.4,555.6 L382.5,554.3 L378.6,553.8 L374.6,554.3 L370.5,555.1 L366.5,555.4 L362.6,554.6 L358.8,552.9 L355.1,551.2 L351.3,550.2 L347.3,550.2 L343.1,550.6 L339.1,550.4 L335.3,549.1 L331.8,546.9 L328.3,544.8 L324.6,543.4 L320.6,543.0 L316.5,542.8 M571.7,447.1 L569.9,450.7 L568.5,454.6 L566.7,458.2 L564.0,461.1 L560.6,463.4 L557.1,465.6 L554.3,468.3 L552.1,471.7 L550.2,475.4 L547.9,478.7 L544.8,481.3 L541.1,483.1 L537.5,484.9 L534.3,487.2 L531.7,490.3 L529.3,493.7 L526.6,496.7 L523.3,498.9 L519.4,500.2 L515.5,501.5 L512.1,503.5 L509.1,506.2 L506.4,509.3 L503.3,511.9 L499.7,513.6 L495.6,514.4 L491.6,515.3 L488.0,516.7 L484.7,519.1 L481.6,521.8 L478.2,524.0 L474.4,525.2 L470.3,525.5 L466.2,525.8 L462.4,526.9 L458.9,528.8 L455.4,531.1 L451.8,532.8 L447.8,533.5 L443.7,533.3 L439.7,533.1 L435.8,533.7 L432.0,535.2 L428.3,537.0 L424.5,538.3 L420.5,538.4 L416.4,537.7 L412.4,537.0 L408.5,537.1 L404.6,538.1 L400.6,539.5 L396.7,540.2 L392.7,539.8 L388.8,538.6 L384.9,537.4 L380.9,537.0 L377.0,537.5 L372.9,538.4 L368.9,538.6 L365.0,537.7 L361.2,535.9 L357.5,534.3 L353.7,533.4 L349.6,533.5 L345.5,533.8 L341.5,533.5 M675.7,347.4 Q669.6,346.8 663.0,352.0 M672.7,369.7 Q666.7,368.6 659.6,373.2 M666.9,395.4 Q661.0,393.8 653.5,397.7 M657.4,423.7 Q651.7,421.4 643.9,424.5 M646.7,447.5 Q641.3,444.8 633.2,447.1 M634.6,469.1 Q629.4,465.9 621.1,467.5 M621.7,488.0 Q616.8,484.4 608.5,485.3 M607.5,505.7 Q602.9,501.7 594.5,501.9 M587.3,526.6 Q583.1,522.1 574.7,521.5 M567.5,543.3 Q563.8,538.5 555.5,537.1 M543.3,560.1 Q540.1,554.9 532.0,552.6 M523.7,571.1 Q521.0,565.7 513.0,562.8 M501.9,581.1 Q499.6,575.5 492.0,571.9 M480.8,588.8 Q478.9,583.0 471.6,578.8 M456.5,595.3 Q455.1,589.4 448.2,584.6 M434.3,599.3 Q433.4,593.3 426.9,588.0 M410.3,601.6 Q410.0,595.5 403.9,589.7 M385.0,601.8 Q385.2,595.7 379.7,589.3 M360.6,599.8 Q361.4,593.8 356.4,587.0 M338.4,596.2 Q339.7,590.2 335.3,583.0 M316.7,590.7 Q318.4,584.9 314.6,577.4 M288.7,580.9 Q291.0,575.3 288.0,567.4 M267.3,571.1 Q270.1,565.7 267.8,557.6 M656.6,386.5 Q648.3,384.5 638.7,387.8 M647.9,414.5 Q639.9,411.5 629.9,413.8 M637.3,439.1 Q629.7,435.3 619.5,436.6 M623.3,464.2 Q616.1,459.6 605.8,459.8 M609.7,483.7 Q603.0,478.5 592.7,477.8 M595.5,500.8 Q589.2,495.1 579.1,493.6 M577.0,519.5 Q571.3,513.2 561.3,510.6 M557.0,536.0 Q551.9,529.2 542.3,525.7 M535.0,550.8 Q530.6,543.6 521.4,539.1 M513.1,562.8 Q509.3,555.1 500.6,549.9 M488.2,573.3 Q485.3,565.3 477.1,559.2 M461.7,581.5 Q459.6,573.3 452.1,566.4 M433.1,587.2 Q431.9,578.7 425.1,571.1 M408.7,589.5 Q408.3,581.0 402.2,572.7 M383.1,589.5 Q383.5,581.0 378.3,572.2 M354.7,586.7 Q356.0,578.3 351.7,569.0 M331.3,582.0 Q333.4,573.8 329.9,564.1 M309.2,575.6 Q312.0,567.6 309.4,557.6 M286.4,566.7 Q289.8,558.9 288.2,548.8 M627.0,420.7 Q619.2,417.3 609.2,419.1 M616.5,442.3 Q609.0,438.2 598.8,438.9 M604.7,461.5 Q597.6,456.8 587.4,456.6 M588.1,483.5 Q581.6,478.0 571.4,476.8 M572.8,500.0 Q566.8,493.9 556.8,491.8 M555.2,515.8 Q549.8,509.2 540.1,506.1 M535.7,530.3 Q531.0,523.2 521.5,519.2 M514.2,543.1 Q510.2,535.6 501.3,530.7 M493.6,553.0 Q490.3,545.1 481.8,539.4 M469.7,561.6 Q467.2,553.5 459.4,547.0 M446.0,567.7 Q444.3,559.4 437.1,552.1 M418.3,571.8 Q417.5,563.3 411.2,555.3 M391.9,572.8 Q392.0,564.3 386.6,555.6 M362.9,570.7 Q364.0,562.3 359.6,553.0 M336.2,565.7 Q338.2,557.5 334.7,547.8 M309.4,557.6 Q312.3,549.6 309.2,541.4 M590.6,452.1 Q583.5,447.3 573.3,447.2 M576.7,470.6 Q570.2,465.2 560.0,464.0 M561.5,487.3 Q555.5,481.3 545.5,479.1 M544.1,503.0 Q538.7,496.4 529.0,493.2 M524.6,517.2 Q519.9,510.1 510.6,506.0 M500.9,530.9 Q497.1,523.3 488.3,518.1 M478.6,540.6 Q475.6,532.7 467.4,526.6 M457.1,547.6 Q454.9,539.4 447.3,532.6 M429.7,553.3 Q428.5,544.9 421.7,537.2 M403.4,555.7 Q403.1,547.2 397.2,538.8 M381.1,555.4 Q381.6,546.9 376.6,538.0 M358.7,552.9 Q360.0,544.5 355.9,535.2 M336.1,548.2 Q338.2,540.0 334.9,530.7 M411.0,538.2 Q410.4,529.8 404.3,521.7" fill="none" stroke="currentColor" stroke-width="3.00" /><path d="M642.1,372.9 L636.3,380.0 L630.3,386.8 L624.2,393.3 L617.9,399.4 L612.5,405.6 L607.3,411.7 L601.9,417.6 L596.4,423.1 L590.7,428.5 L584.9,433.5 L579.0,438.3 L572.9,442.9 L567.9,448.0 L563.1,453.2 L558.2,458.2 L553.1,463.0 L547.8,467.7 L542.4,472.1 L536.9,476.3 L531.3,480.4 L525.5,484.2 L519.7,487.9 L513.7,491.3 L507.7,494.6 L501.5,497.6 L495.3,500.4 L489.1,503.0 L482.9,505.7 L476.6,508.2 L470.3,510.5 L464.0,512.6 L457.5,514.5 L451.0,516.1 L444.5,517.6 L438.0,518.8 L431.4,519.8 L424.8,520.6 L418.1,521.2 L411.5,521.5 L404.9,521.7 L398.2,521.6 L391.6,522.5 L384.9,524.0 L378.1,525.3 L371.1,526.4 L364.1,527.2 L357.0,527.8 L349.9,528.1 L342.6,528.2 L334.5,530.9 L325.6,535.1 L316.3,538.9 L306.7,542.3 L296.8,545.2 L286.1,548.9 L273.8,554.6 L261.0,559.7 L247.7,564.2 L234.3,567.6 L226.3,562.1" fill="none" stroke="currentColor" stroke-width="2.20" /><path d="M602.2,395.7 L598.1,400.7 L593.8,405.5 L589.4,410.1 L584.9,414.5 L580.3,418.8 L575.7,422.8 L570.9,426.7 L566.1,430.4 L561.2,433.9 L557.0,437.8 L553.2,442.0 L549.3,446.0 L545.3,449.8 L541.2,453.6 L537.1,457.2 L532.8,460.7 L528.4,464.0 L524.0,467.3 L519.5,470.4 L514.9,473.3 L510.2,476.1 L505.5,478.8 L500.7,481.3 L495.9,483.7 L491.0,486.0 L486.1,488.1 L481.2,490.1 L476.3,492.2 L471.4,494.1 L466.4,496.0 L461.4,497.7 L456.3,499.2 L451.3,500.6 L446.1,501.9 L441.0,503.0 L435.8,504.0 L430.7,504.8 L425.5,505.5 L420.2,506.0 L415.0,506.4 L409.8,506.6 L404.6,506.7 L399.4,506.6 L394.2,506.9 L388.9,508.3 L383.6,509.5 L378.2,510.6 L372.7,511.5 L367.2,512.3 L361.6,512.9 L355.9,513.3 L350.2,513.6 L344.5,513.7 L337.6,517.1 L330.5,520.7 L323.0,524.1 L315.3,527.2 L307.4,530.0 L299.3,532.6 L290.0,536.8" fill="none" stroke="currentColor" stroke-width="2.40" /><path d="M616.3,400.9 L603.0,396.0 M613.7,404.2 L601.3,399.5 M610.7,407.8 L597.2,402.3 M607.8,411.2 L594.6,405.6 M605.0,414.3 L589.5,407.4 M602.2,417.2 L590.0,411.5 M599.7,419.8 L587.9,414.1 M596.9,422.7 L582.6,415.4 M594.5,424.9 L580.3,417.4 M592.0,427.3 L579.1,420.2 M588.6,430.4 L576.9,423.7 M585.4,433.1 L571.6,424.9 M582.8,435.3 L570.4,427.7 M579.6,437.9 L567.4,430.1 M576.6,440.2 L565.2,432.7 M573.7,442.3 L560.1,433.0 M571.0,444.6 L558.8,436.0 M568.0,447.9 L554.2,437.7 M565.3,450.9 L554.1,442.2 M563.0,453.3 L549.1,442.3 M560.3,456.1 L549.6,447.3 M557.1,459.2 L546.2,449.9 M554.4,461.7 L542.6,451.2 M551.6,464.3 L541.7,455.2 M549.0,466.7 L536.9,455.2 M545.9,469.2 L536.6,460.0 M543.3,471.4 L530.9,458.6 M540.8,473.4 L530.4,462.4 M537.7,475.8 L526.1,463.2 M535.0,477.8 L525.0,466.5 M531.7,480.1 L522.2,469.0 M528.3,482.5 L517.0,468.8 M525.1,484.5 L516.5,473.7 M521.3,486.9 L511.4,473.8 M517.5,489.2 L508.9,477.2 M513.6,491.4 L504.1,477.5 M510.0,493.3 L502.4,481.8 M506.7,495.1 L497.3,480.3 M503.7,496.6 L494.7,481.9 M500.8,497.9 L492.0,483.1 M497.2,499.6 L488.5,484.4 M493.3,501.2 L486.5,488.7 M489.3,502.9 L482.9,490.4 M485.5,504.5 L479.6,492.5 M481.4,506.3 L475.2,492.8 M477.2,508.0 L470.2,491.9 M474.2,509.1 L467.4,492.8 M471.1,510.2 L465.1,495.2 M467.5,511.4 L462.4,497.8 M463.5,512.7 L457.7,496.1 M460.0,513.7 L455.2,499.2 M456.6,514.7 L451.3,498.1 M452.7,515.7 L448.2,500.2 M448.8,516.6 L444.7,501.7 M444.4,517.6 L441.2,504.7 M441.3,518.2 L438.1,504.4 M437.2,518.9 L433.8,502.8 M434.0,519.4 L431.1,504.1 M430.5,519.9 L428.0,505.8 M426.1,520.5 L423.6,504.6 M422.6,520.8 L420.5,505.5 M418.5,521.2 L416.9,507.2 M414.6,521.4 L413.0,505.0 M411.1,521.6 L410.0,507.8 M407.2,521.7 L406.2,503.9 M403.5,521.7 L402.9,504.9 M399.5,521.6 L399.1,504.0 M396.0,521.5 L396.0,504.0 M392.3,522.3 L392.5,509.3 M388.4,523.3 L388.9,507.2 M383.8,524.2 L384.8,506.7 M380.2,524.9 L381.2,511.0 M377.1,525.5 L378.4,511.4 M373.4,526.0 L375.3,508.2 M369.9,526.5 L371.8,510.9 M366.2,527.0 L368.4,511.7 M363.0,527.3 L365.6,510.6 M358.3,527.7 L361.1,512.1 M354.4,527.9 L357.9,510.7 M350.9,528.1 L353.6,515.2 M346.6,528.2 L350.2,513.1 M343.4,528.2 L347.3,512.7 M338.9,528.7 L343.1,513.4 M334.1,531.1 L337.9,518.2 M329.2,533.5 L333.6,519.3 M325.3,535.2 L330.9,518.2 M320.1,537.4 L325.4,522.3 M314.7,539.5 L319.5,526.4 M309.2,541.4 L315.0,526.4 M303.5,543.3 L308.9,530.2 M298.0,544.9 L304.8,529.1 M292.7,546.4 L299.2,531.9 M286.5,548.8 L292.1,537.0" fill="none" stroke="currentColor" stroke-width="1.90" /><path d="M393.1,208.7 A114.5,114.5 0 1 1 393.1,434.3" fill="none" stroke="currentColor" stroke-width="3.0"/><path d="M390.6,216.3 A107.5,107.5 0 1 1 390.6,426.7" fill="none" stroke="currentColor" stroke-width="2.8" stroke-linecap="round" stroke-dasharray="0.1 4.2"/><path d="M366.8,241.4 A92.5,92.5 0 0 1 499.9,289.9" fill="none" stroke="currentColor" stroke-width="2.2" stroke-linecap="round" stroke-dasharray="0.1 6"/><path d="M493.1,367.8 A92.5,92.5 0 0 1 381.4,408.4" fill="none" stroke="currentColor" stroke-width="2.2" stroke-linecap="round" stroke-dasharray="0.1 6"/><path d="M246.9,134.7 L274.6,143.3 M246.3,138.9 L272.6,147.2 M244.3,142.6 L272.1,151.4 M243.9,146.9 L270.1,155.1 M241.1,150.5 L270.3,159.5 M242.1,155.3 L266.9,162.8 M240.8,159.4 L265.8,166.8 M238.5,163.2 L265.8,171.0 M238.9,167.9 L263.1,174.4 M236.7,171.7 L263.2,178.7 M233.7,175.0 L264.0,183.5 M232.7,178.9 L262.7,187.8 M234.2,183.7 L258.8,191.0 M233.7,188.1 L256.9,194.6 M229.4,191.9 L259.0,199.0 M227.9,196.8 L258.8,202.3 M228.7,202.4 L256.9,204.9 M230.3,208.3 L254.9,207.5 M230.6,214.4 L255.4,209.7 M229.9,221.3 L258.5,210.9 M232.3,226.7 L259.5,213.1 M237.9,229.6 L257.9,217.6 M240.1,233.9 L260.3,220.3 M242.1,238.2 L263.2,222.9 M245.3,241.4 L265.0,226.4 M246.5,245.9 L268.9,228.6" fill="none" stroke="currentColor" stroke-width="1.76" /><path d="M245.8,130.0 L244.6,133.9 L243.4,137.9 L242.2,142.0 L241.0,146.0 L239.8,150.1 L238.6,154.3 L237.5,158.4 L236.3,162.6 L235.2,166.9 L234.2,171.1 L233.3,174.9 L232.2,178.7 L231.1,182.8 L229.9,187.1 L228.8,191.7 L227.8,196.8 L227.1,202.3 L226.9,208.4 L227.7,215.0 L229.6,221.4 L232.1,226.8 L234.7,231.5 L237.5,235.7 L240.3,239.5 L243.1,243.1 L245.8,246.5 L248.4,249.7 M278.2,140.0 L276.9,144.1 L275.6,148.1 L274.2,152.1 L272.9,156.0 L271.6,159.9 L270.3,163.8 L269.1,167.7 L267.9,171.6 L266.8,175.4 L265.7,179.4 L264.4,183.7 L263.1,187.9 L261.8,191.9 L260.7,195.6 L259.7,199.1 L258.9,202.3 L258.4,205.1 L258.3,207.4 L258.3,209.2 L258.7,210.8 L259.7,213.0 L261.1,215.7 L262.9,218.6 L264.9,221.6 L267.2,224.7 L269.6,228.0 L272.1,231.4" fill="none" stroke="currentColor" stroke-width="2.20" /><path d="M217.8,151.1 L235.2,157.4 M215.3,154.9 L234.6,162.0 M215.4,159.8 L231.4,165.6 M213.0,163.8 L230.8,170.1 M210.4,167.8 L230.4,174.6 M209.7,172.5 L228.3,178.4 M209.9,177.4 L225.4,182.1 M208.6,182.0 L224.2,186.1 M206.2,186.4 L224.5,190.5 M206.0,191.2 L222.9,194.5 M205.2,195.8 L222.1,198.7 M204.3,200.4 L221.6,203.0 M203.4,205.1 L221.2,207.3 M202.1,209.8 L221.7,211.5 M203.6,214.7 L219.5,215.6 M202.7,219.6 L220.1,219.7 M203.6,224.5 L219.4,223.8 M203.4,229.7 L220.3,227.6 M203.9,235.0 L221.3,231.1 M206.7,239.7 L220.8,235.1 M207.7,244.6 L222.9,238.7 M209.2,249.3 L224.9,242.3 M212.7,252.9 L225.2,246.8 M213.3,257.8 L228.7,250.0 M216.1,261.3 L230.0,254.4" fill="none" stroke="currentColor" stroke-width="1.76" /><path d="M217.6,146.4 L216.2,150.6 L214.8,154.7 L213.3,159.0 L211.8,163.4 L210.4,167.8 L209.0,172.2 L207.6,176.7 L206.4,181.4 L205.3,186.2 L204.4,190.9 L203.6,195.6 L203.0,200.3 L202.4,205.0 L202.0,209.8 L201.7,214.6 L201.6,219.6 L201.8,224.6 L202.3,229.8 L203.3,235.1 L204.8,240.3 L206.6,245.0 L208.5,249.6 L210.7,253.9 L212.8,258.0 L214.9,261.9 L216.9,265.8 M238.4,153.6 L236.8,157.9 L235.1,162.2 L233.5,166.4 L232.0,170.5 L230.5,174.6 L229.0,178.7 L227.7,182.7 L226.4,186.7 L225.4,190.7 L224.5,194.8 L223.7,199.0 L222.9,203.2 L222.3,207.4 L221.7,211.5 L221.4,215.7 L221.2,219.7 L221.2,223.7 L221.4,227.5 L221.9,231.0 L222.8,234.5 L224.0,238.2 L225.6,242.0 L227.3,245.8 L229.1,249.7 L231.2,253.8 L233.1,258.0" fill="none" stroke="currentColor" stroke-width="2.20" /><path d="M263.1,252.5 L268.5,236.0 M266.8,253.9 L272.4,237.1 M270.5,255.5 L276.3,237.9 M274.9,255.0 L279.5,241.0 M278.4,257.2 L283.6,241.2 M282.6,257.3 L287.0,243.6 M286.3,259.2 L291.0,244.0 M290.2,260.3 L294.7,245.3 M294.3,260.7 L298.2,247.2 M298.0,262.3 L302.2,247.8 M301.7,263.7 L306.3,248.7 M305.3,265.2 L310.3,249.6 M308.9,266.9 L314.3,250.3 M313.2,267.0 L317.6,252.7 M317.2,268.4 L321.3,253.5 M321.4,269.8 L324.8,254.1 M325.9,271.0 L328.2,254.3 M330.7,271.4 L331.4,254.7 M335.6,271.4 L334.4,254.6 M340.3,269.2 L337.7,255.7 M344.7,267.8 L341.1,255.2 M349.4,267.8 L344.0,252.7 M352.8,264.6 L348.0,253.1 M357.0,263.4 L351.1,250.9 M361.0,262.0 L354.3,248.8 M364.4,259.7 L358.0,247.5 M367.8,257.5 L361.7,245.9 M371.8,256.5 L364.7,243.2 M374.9,253.3 L368.6,242.5 M378.7,251.5 L371.6,240.2 M382.5,249.6 L374.6,237.7 M385.1,246.1 L378.6,236.7 M388.6,244.0 L381.6,234.1 M392.0,241.8 L384.7,231.7 M395.3,239.5 L387.9,229.3" fill="none" stroke="currentColor" stroke-width="1.76" /><path d="M258.9,252.5 L262.7,253.7 L266.5,254.8 L270.4,256.0 L274.2,257.2 L278.1,258.3 L281.9,259.5 L285.8,260.6 L289.8,261.7 L293.7,262.8 L297.6,263.8 L301.3,264.9 L305.0,265.9 L308.9,267.1 L312.8,268.3 L316.9,269.4 L321.3,270.4 L325.9,271.2 L330.7,271.5 L335.6,271.4 L340.5,270.7 L345.1,269.5 L349.5,268.0 L353.5,266.3 L357.5,264.4 L361.2,262.5 L364.8,260.5 L368.3,258.6 L371.9,256.6 L375.6,254.5 L379.2,252.2 L382.6,249.8 L386.0,247.4 L389.3,245.0 L392.6,242.6 L395.7,240.2 L398.9,237.8 M265.1,233.5 L268.9,234.8 L272.7,236.1 L276.4,237.5 L280.2,238.8 L284.0,240.1 L287.7,241.4 L291.4,242.6 L295.2,243.9 L298.9,245.1 L302.7,246.2 L306.6,247.5 L310.6,248.8 L314.3,250.1 L318.0,251.4 L321.5,252.5 L325.0,253.5 L328.2,254.2 L331.4,254.6 L334.4,254.6 L337.5,254.3 L340.6,253.6 L343.9,252.6 L347.3,251.4 L350.6,249.9 L354.1,248.3 L357.6,246.6 L361.1,244.9 L364.6,243.1 L367.9,241.4 L371.2,239.5 L374.4,237.5 L377.7,235.4 L380.9,233.2 L384.2,230.9 L387.5,228.6 L390.8,226.4" fill="none" stroke="currentColor" stroke-width="2.20" /><path d="M195.8,269.1 L201.8,249.2 M199.4,271.0 L205.9,249.7 M203.6,270.9 L209.3,252.1 M207.4,272.1 L213.2,253.2 M211.0,274.0 L217.2,253.6 M215.0,274.5 L220.9,255.4 M218.1,278.2 L225.5,254.2 M222.5,277.2 L228.7,257.5 M226.3,278.4 L232.5,258.7 M229.6,281.0 L236.9,258.5 M233.4,282.1 L240.7,259.9 M237.6,281.9 L244.1,262.7 M240.8,284.8 L248.5,262.4 M244.7,285.4 L252.1,264.3 M248.7,286.0 L255.6,266.4 M252.2,288.0 L259.6,267.1 M256.4,288.2 L263.0,269.5 M260.1,289.5 L266.8,270.9 M263.2,292.6 L271.2,270.6 M267.4,292.7 L274.5,273.2 M270.7,295.3 L278.8,273.3 M275.2,294.6 L281.8,276.8 M279.0,295.8 L285.5,278.3 M282.8,297.0 L289.2,280.0 M285.9,300.2 L293.6,279.6 M289.8,301.1 L297.2,281.5 M294.2,301.0 L300.3,284.4 M297.9,302.4 L304.1,285.8 M300.9,305.9 L308.6,285.1 M304.9,306.3 L312.1,287.4 M308.2,308.7 L316.2,287.9 M312.7,307.9 L319.2,291.7 M315.7,310.7 L323.6,291.8 M319.7,311.0 L326.9,294.7 M322.4,314.0 L331.5,295.0 M325.8,315.3 L335.4,297.3 M328.8,316.9 L339.3,299.6 M332.3,317.9 L342.5,303.0 M334.0,321.6 L347.2,304.0 M338.4,322.0 L349.2,308.5 M341.5,324.3 L352.3,311.3" fill="none" stroke="currentColor" stroke-width="1.76" /><path d="M191.2,270.4 L195.1,271.6 L198.9,272.7 L202.8,273.8 L206.6,274.9 L210.4,276.0 L214.2,277.1 L218.0,278.3 L221.8,279.4 L225.6,280.5 L229.4,281.7 L233.1,282.9 L236.9,284.1 L240.6,285.3 L244.3,286.5 L248.1,287.8 L251.9,289.1 L255.6,290.3 L259.4,291.6 L263.1,292.9 L266.9,294.3 L270.6,295.6 L274.4,296.9 L278.1,298.2 L281.8,299.6 L285.6,301.0 L289.4,302.3 L293.2,303.7 L296.9,305.0 L300.7,306.4 L304.4,307.7 L308.1,309.1 L311.7,310.4 L315.3,311.8 L318.7,313.3 L322.1,314.7 L325.2,316.2 L328.2,317.9 L331.1,319.7 L334.0,321.7 L336.9,323.9 L339.8,326.3 L342.8,328.8 M198.8,245.6 L202.6,246.8 L206.4,248.0 L210.2,249.2 L214.0,250.4 L217.9,251.6 L221.7,252.8 L225.5,254.1 L229.4,255.3 L233.2,256.6 L237.1,257.9 L240.9,259.2 L244.8,260.5 L248.6,261.9 L252.4,263.2 L256.2,264.6 L260.0,266.0 L263.8,267.4 L267.6,268.8 L271.4,270.2 L275.1,271.6 L278.9,273.1 L282.7,274.5 L286.4,275.9 L290.2,277.4 L293.9,278.8 L297.6,280.3 L301.3,281.7 L305.0,283.2 L308.8,284.6 L312.6,286.1 L316.4,287.6 L320.2,289.1 L324.1,290.7 L327.9,292.4 L331.9,294.3 L335.9,296.3 L339.9,298.7 L343.7,301.2 L347.3,303.9 L350.7,306.6 L354.0,309.3 L357.0,311.9" fill="none" stroke="currentColor" stroke-width="2.20" /><path d="M379.5,276.5 l2.6,-0.1 M377.8,314.8 l3.9,-1.3 M377.6,312.5 l2.7,0.8 M371.7,315.3 l3.4,-1.0 M391.6,281.9 l2.7,-0.4 M376.6,303.2 l2.8,-1.1 M370.6,305.0 l3.4,0.2 M390.0,279.0 l3.0,-0.0 M372.7,315.2 l3.6,0.5 M367.3,309.6 l4.2,-0.6 M364.4,314.7 l3.0,0.4 M377.5,317.9 l2.7,0.8 M377.1,312.5 l3.7,-1.4 M392.7,290.4 l3.8,0.7 M360.0,291.6 l3.2,-1.2 M351.0,306.4 l3.3,1.1 M356.3,317.3 l4.1,1.2 M367.1,282.9 l2.6,0.2 M371.5,316.8 l4.4,-0.1 M352.7,308.9 l2.7,0.1 M351.9,319.4 l3.6,-0.2 M360.5,298.4 l4.4,-0.2 M357.6,296.7 l4.3,-0.4 M377.2,316.1 l3.2,0.9 M372.3,278.7 l2.6,1.3 M369.4,293.3 l4.3,0.2 M371.0,285.6 l4.0,-0.7 M369.6,308.4 l3.7,-1.1 M357.3,305.4 l4.0,-1.2 M393.9,278.4 l2.8,-1.2 M368.5,301.7 l4.2,-1.0 M380.1,277.1 l3.7,-0.7 M381.1,277.9 l4.0,-0.5 M375.2,302.7 l3.5,1.1 M390.3,285.5 l3.2,1.1 M367.1,318.9 l2.8,0.5 M382.8,307.0 l2.5,1.3 M362.4,312.9 l3.8,-0.2 M386.5,304.4 l3.2,0.7 M371.2,306.2 l3.7,0.9 M355.3,295.7 l2.5,0.9 M383.5,312.2 l2.6,0.1 M357.3,318.8 l4.2,-0.8 M386.1,303.2 l3.3,0.4 M374.7,307.7 l3.5,-0.2 M362.1,307.3 l3.2,0.3 M382.9,293.3 l3.9,-1.3 M360.0,312.4 l2.8,-1.3 M368.2,310.5 l3.5,0.1 M349.1,310.2 l4.0,0.4 M386.4,301.5 l3.9,1.1 M388.7,319.5 l2.9,-1.3 M367.7,286.4 l4.0,-0.3 M355.6,317.8 l4.3,0.6 M358.0,291.3 l3.4,-0.3 M383.3,305.3 l4.2,0.5 M383.1,313.8 l4.3,0.9 M367.1,303.7 l3.8,1.1 M380.8,293.3 l2.9,-0.5 M359.5,304.7 l4.0,-0.9 M372.5,312.3 l3.2,-1.2 M375.9,289.4 l2.8,-0.6 M392.1,312.0 l3.2,1.3 M375.7,308.3 l3.5,0.9 M368.8,316.1 l3.7,0.1 M368.3,311.5 l3.0,-0.6 M385.6,275.4 l3.6,-0.8 M378.6,300.5 l2.7,0.7 M366.7,287.4 l4.2,0.8 M362.2,304.5 l2.7,0.1 M351.8,302.8 l4.3,0.4 M369.6,293.3 l2.8,-0.7 M379.0,283.7 l3.1,-1.2 M361.9,316.7 l3.1,-1.2 M363.9,317.4 l2.7,-0.5 M357.6,304.7 l3.4,-1.2 M387.7,287.7 l3.9,-0.1 M388.1,274.8 l3.0,-0.6 M360.2,311.5 l3.5,-0.5 M371.3,312.6 l3.6,-0.1 M378.2,301.5 l3.3,-0.2 M388.4,286.7 l3.2,0.3 M375.2,280.4 l3.4,0.7 M382.7,315.5 l2.6,-1.3 M376.8,285.7 l3.8,-1.4 M369.0,279.8 l3.2,0.6 M371.5,313.0 l4.2,0.4 M387.0,280.5 l3.4,-0.5 M376.7,277.3 l4.3,-0.4 M384.1,317.3 l4.4,-0.3 M387.4,319.9 l2.8,0.7 M381.5,294.0 l3.1,-1.0 M366.9,316.7 l3.3,-0.7 M376.5,293.0 l3.7,-0.1 M385.6,303.6 l3.0,-0.0 M374.7,296.2 l4.3,0.8 M362.1,288.3 l3.7,-1.0 M391.0,274.2 l3.5,-0.7 M358.3,319.5 l4.1,-0.8 M393.3,287.0 l3.0,-1.3 M353.1,319.8 l4.0,1.3 M386.4,309.6 l3.0,-1.0 M356.1,306.6 l3.5,-1.5 M362.0,312.8 l4.2,0.7 M381.6,315.8 l3.6,-0.4 M374.4,285.6 l2.6,-0.7 M364.9,317.9 l3.5,1.0 M382.2,300.4 l3.1,-0.3 M362.6,302.4 l4.2,0.9" fill="none" stroke="currentColor" stroke-width="2.00" /><path d="M340.0,300.0 L340.4,299.3 L340.9,298.4 L341.4,297.4 L342.0,296.2 L342.6,295.0 L343.3,293.6 L344.0,292.2 L344.8,290.8 L345.6,289.3 L346.4,287.8 L347.3,286.3 L348.2,284.9 L349.1,283.5 L350.0,282.3 L351.0,281.1 L352.0,280.0 L353.0,279.0 L354.1,278.1 L355.2,277.2 L356.4,276.3 L357.6,275.5 L358.8,274.7 L360.0,273.9 L361.3,273.1 L362.6,272.4 L363.9,271.7 L365.3,271.0 L366.6,270.4 L368.0,269.8 L369.3,269.2 L370.7,268.6 L372.0,268.0 L373.4,267.4 L374.9,266.9 L376.5,266.4 L378.1,265.9 L379.7,265.5 L381.4,265.0 L383.1,264.6 L384.8,264.2 L386.4,263.9 L387.9,263.5 L389.4,263.2 L390.8,262.9 L392.1,262.7 L393.2,262.4 L394.2,262.2 L395.0,262.0" fill="none" stroke="currentColor" stroke-width="2.20" /><path d="M362.0,320.0 L362.2,319.3 L362.4,318.4 L362.6,317.4 L362.9,316.2 L363.2,315.0 L363.5,313.6 L363.8,312.2 L364.1,310.8 L364.5,309.3 L364.9,307.8 L365.3,306.3 L365.8,304.9 L366.3,303.5 L366.8,302.3 L367.4,301.1 L368.0,300.0 L368.7,299.0 L369.4,298.1 L370.1,297.1 L370.9,296.2 L371.8,295.4 L372.7,294.6 L373.6,293.8 L374.5,293.0 L375.4,292.3 L376.4,291.6 L377.4,290.9 L378.3,290.2 L379.3,289.6 L380.2,289.1 L381.1,288.5 L382.0,288.0 L382.9,287.5 L383.8,287.1 L384.8,286.7 L385.8,286.3 L386.8,286.0 L387.9,285.7 L388.9,285.5 L389.9,285.2 L390.8,285.0 L391.8,284.9 L392.7,284.7 L393.5,284.5 L394.2,284.4 L394.9,284.3 L395.5,284.1 L396.0,284.0" fill="none" stroke="currentColor" stroke-width="2.00" /><path d="M168.0,172.0 L166.9,174.6 L165.6,177.8 L164.1,181.4 L162.4,185.5 L160.6,189.9 L158.6,194.6 L156.5,199.6 L154.3,204.8 L152.2,210.2 L150.0,215.6 L147.8,221.0 L145.7,226.5 L143.7,231.9 L141.8,237.1 L140.1,242.2 L138.5,247.0 L137.0,251.8 L135.6,256.9 L134.2,262.1 L132.9,267.5 L131.6,273.0 L130.3,278.4 L129.1,283.8 L127.9,289.2 L126.8,294.4 L125.8,299.4 L124.8,304.1 L123.9,308.5 L123.0,312.6 L122.3,316.2 L121.6,319.4 L121.0,322.0" fill="none" stroke="currentColor" stroke-width="1.90" /><path d="M168.3,179.2 L173.1,186.8 M166.6,183.3 L171.1,190.6 M164.8,187.5 L169.3,194.7 M163.0,191.6 L168.8,200.8 M161.3,195.7 L166.8,204.6 M159.5,199.9 L164.3,207.4 M157.8,204.0 L163.8,213.5 M156.1,208.2 L160.7,215.4 M154.4,212.4 L160.9,222.5 M152.7,216.5 L157.1,223.3 M151.0,220.7 L156.8,229.4 M149.4,224.9 L155.5,234.1 M147.8,229.1 L154.1,238.3 M146.2,233.3 L151.9,241.5 M144.7,237.6 L151.6,247.2 M143.2,241.8 L149.5,250.4 M141.8,246.1 L148.4,254.8 M140.5,250.4 L145.4,256.6 M139.2,254.7 L144.6,261.2 M138.0,259.1 L144.4,266.6 M136.9,263.4 L143.6,271.2 M135.8,267.8 L141.1,273.8 M134.8,272.1 L142.2,280.5 M133.7,276.5 L139.9,283.4 M132.7,280.9 L139.4,288.2 M131.8,285.3 L138.6,292.8 M130.8,289.7 L138.8,298.3 M129.9,294.1 L136.0,300.7 M128.9,298.5 L136.0,306.0 M128.0,302.9 L135.2,310.6 M127.1,307.3 L134.5,315.2 M126.2,311.7 L132.4,318.3 M125.3,316.1 L131.4,322.6" fill="none" stroke="currentColor" stroke-width="1.50" /><path d="M181.0,180.0 L180.1,182.5 L179.0,185.5 L177.6,188.9 L176.1,192.8 L174.5,196.9 L172.8,201.4 L171.0,206.1 L169.1,211.1 L167.2,216.1 L165.3,221.3 L163.4,226.4 L161.6,231.6 L159.9,236.7 L158.3,241.6 L156.8,246.4 L155.5,251.0 L154.3,255.6 L153.1,260.4 L152.0,265.3 L151.0,270.4 L149.9,275.6 L149.0,280.7 L148.0,285.9 L147.2,290.9 L146.3,295.9 L145.5,300.6 L144.8,305.1 L144.1,309.2 L143.5,313.1 L143.0,316.5 L142.5,319.5 L142.0,322.0" fill="none" stroke="currentColor" stroke-width="1.90" /><path d="M181.4,187.2 L187.0,195.4 M179.8,191.4 L185.6,200.1 M178.2,195.6 L184.1,204.5 M176.5,199.8 L181.1,206.6 M174.9,204.0 L180.3,212.1 M173.3,208.2 L179.0,216.7 M171.7,212.4 L176.4,219.4 M170.1,216.6 L174.6,223.2 M168.5,220.8 L175.4,230.8 M167.0,225.0 L171.3,231.3 M165.4,229.3 L171.3,237.4 M164.0,233.5 L169.3,240.8 M162.5,237.8 L167.1,243.9 M161.1,242.1 L166.5,249.1 M159.8,246.4 L165.0,252.9 M158.6,250.7 L164.6,258.0 M157.4,255.1 L165.3,264.2 M156.4,259.4 L161.6,265.3 M155.4,263.8 L161.6,270.6 M154.4,268.2 L162.0,276.2 M153.5,272.6 L160.9,280.3 M152.7,277.0 L158.0,282.5 M151.9,281.5 L157.9,287.6 M151.1,285.9 L157.4,292.2 M150.3,290.3 L158.8,298.8 M149.5,294.8 L156.5,301.6 M148.8,299.2 L155.1,305.4 M148.1,303.6 L155.2,310.6 M147.3,308.1 L154.5,315.0 M146.6,312.5 L152.5,318.3 M145.9,317.0 L153.6,324.6" fill="none" stroke="currentColor" stroke-width="1.50" /><path d="M194.0,188.0 L193.2,190.3 L192.3,193.2 L191.1,196.4 L189.9,200.0 L188.5,204.0 L187.0,208.2 L185.4,212.7 L183.8,217.3 L182.2,222.1 L180.6,226.9 L179.1,231.8 L177.5,236.7 L176.1,241.5 L174.8,246.2 L173.6,250.7 L172.5,255.0 L171.6,259.3 L170.7,263.8 L169.8,268.5 L169.1,273.3 L168.3,278.2 L167.6,283.1 L167.0,287.9 L166.4,292.7 L165.9,297.3 L165.3,301.8 L164.9,306.0 L164.4,310.0 L164.0,313.6 L163.7,316.8 L163.3,319.7 L163.0,322.0" fill="none" stroke="currentColor" stroke-width="1.90" /><path d="M194.6,195.3 L201.1,204.2 M193.1,199.5 L198.9,207.5 M191.6,203.8 L197.5,212.0 M190.1,208.0 L196.7,217.2 M188.6,212.3 L195.8,222.2 M187.1,216.5 L193.3,225.0 M185.7,220.8 L190.3,227.0 M184.3,225.0 L190.2,233.1 M182.8,229.3 L189.4,237.9 M181.5,233.6 L187.1,240.8 M180.2,237.9 L186.9,246.5 M178.9,242.2 L184.7,249.5 M177.6,246.5 L184.4,254.7 M176.5,250.9 L183.4,258.9 M175.4,255.3 L182.7,263.3 M174.5,259.7 L182.9,268.5 M173.7,264.1 L181.4,271.9 M172.9,268.5 L180.7,276.3 M172.2,273.0 L180.1,280.6 M171.5,277.4 L177.8,283.3 M170.9,281.9 L178.6,289.0 M170.3,286.3 L178.1,293.5 M169.7,290.8 L175.5,296.0 M169.1,295.2 L177.5,302.8 M168.6,299.7 L175.1,305.5 M168.1,304.2 L175.6,310.8 M167.6,308.7 L175.2,315.4 M167.1,313.1 L175.4,320.5" fill="none" stroke="currentColor" stroke-width="1.50" /><path d="M207.0,196.0 L206.4,198.2 L205.6,200.9 L204.6,203.9 L203.6,207.3 L202.4,211.0 L201.2,215.0 L199.9,219.2 L198.6,223.6 L197.3,228.0 L196.0,232.6 L194.7,237.2 L193.4,241.8 L192.3,246.3 L191.2,250.7 L190.3,254.9 L189.5,259.0 L188.8,263.1 L188.2,267.3 L187.6,271.7 L187.2,276.2 L186.7,280.8 L186.3,285.4 L186.0,290.0 L185.7,294.4 L185.4,298.8 L185.1,303.0 L184.9,307.0 L184.7,310.7 L184.5,314.1 L184.3,317.1 L184.2,319.8 L184.0,322.0" fill="none" stroke="currentColor" stroke-width="1.90" /><path d="M207.7,203.3 L214.8,212.2 M206.4,207.6 L212.5,215.4 M205.1,211.9 L212.6,221.6 M203.8,216.2 L209.7,223.9 M202.5,220.5 L208.8,228.7 M201.2,224.8 L208.9,234.6 M199.9,229.2 L205.6,236.3 M198.7,233.5 L205.7,242.1 M197.5,237.8 L205.3,247.3 M196.3,242.2 L201.4,248.2 M195.2,246.5 L202.7,255.1 M194.2,250.9 L201.4,258.9 M193.2,255.3 L200.2,262.7 M192.4,259.7 L200.5,267.8 M191.7,264.2 L200.2,272.3 M191.1,268.6 L197.2,274.2 M190.5,273.1 L198.0,279.7 M190.1,277.6 L198.1,284.5 M189.7,282.1 L198.1,289.1 M189.3,286.5 L198.8,294.4 M188.9,291.0 L197.9,298.3 M188.6,295.5 L197.7,302.8 M188.3,300.0 L194.5,304.9 M188.1,304.5 L195.6,310.5 M187.8,309.0 L197.3,316.5 M187.6,313.5 L197.2,321.1" fill="none" stroke="currentColor" stroke-width="1.50" /><path d="M220.0,204.0 L219.5,206.1 L218.9,208.6 L218.1,211.4 L217.3,214.6 L216.4,218.1 L215.4,221.8 L214.4,225.7 L213.3,229.8 L212.3,234.0 L211.3,238.3 L210.3,242.6 L209.3,246.9 L208.5,251.1 L207.7,255.2 L207.0,259.2 L206.5,263.0 L206.1,266.8 L205.7,270.8 L205.5,274.9 L205.2,279.1 L205.1,283.4 L205.0,287.7 L204.9,292.0 L204.9,296.2 L204.9,300.3 L204.9,304.2 L205.0,307.9 L205.0,311.4 L205.0,314.6 L205.0,317.4 L205.0,319.9 L205.0,322.0" fill="none" stroke="currentColor" stroke-width="1.90" /><path d="M350.2,257.4 L335.6,238.3 M352.2,253.9 L339.3,237.3 M355.7,252.7 L341.4,234.1 M357.9,249.9 L344.9,232.6 M360.8,248.0 L347.8,230.2 M363.4,245.8 L351.0,228.2 M366.4,244.4 L354.0,225.6 M368.8,242.1 L357.7,223.9 M371.7,241.1 L361.0,221.4 M373.9,238.2 L365.2,220.9 M376.8,236.7 L368.8,219.4 M379.9,235.6 L372.3,217.5 M382.8,234.0 L376.1,216.5 M385.3,231.5 L380.3,216.6 M389.0,232.6 L383.5,213.3 M391.5,230.1 L388.1,214.0 M394.2,230.0 L392.4,213.0 M397.1,228.5 L396.8,214.0 M400.2,228.8 L400.8,213.8 M403.4,230.6 L404.8,212.6" fill="none" stroke="currentColor" stroke-width="1.62" /><path d="M347.8,260.4 L350.7,258.0 L353.4,255.6 L356.1,253.3 L358.8,251.0 L361.4,248.8 L364.1,246.7 L366.7,244.7 L369.2,242.8 L371.8,241.2 L374.5,239.5 L377.4,237.9 L380.3,236.5 L383.2,235.1 L386.1,233.8 L389.1,232.7 L391.8,231.8 L394.4,231.2 L397.1,230.8 L400.1,230.7 L403.4,230.7 L406.9,230.8 M332.2,239.6 L335.1,237.7 L338.0,235.6 L341.0,233.6 L344.1,231.5 L347.2,229.4 L350.4,227.3 L353.8,225.2 L357.3,223.2 L361.0,221.3 L364.6,219.7 L368.3,218.1 L372.0,216.7 L375.7,215.4 L379.6,214.2 L383.5,213.2 L387.7,212.3 L392.2,211.8 L396.7,211.7 L400.9,211.9 L404.8,212.4 L408.5,212.9" fill="none" stroke="currentColor" stroke-width="2.20" /><path d="M395.0,236.0 L395.5,236.1 L396.2,236.1 L396.9,236.2 L397.8,236.2 L398.7,236.3 L399.7,236.3 L400.7,236.4 L401.8,236.5 L402.8,236.6 L403.9,236.7 L405.0,236.9 L406.1,237.0 L407.2,237.2 L408.2,237.4 L409.1,237.7 L410.0,238.0 L410.9,238.3 L411.8,238.7 L412.7,239.1 L413.6,239.6 L414.5,240.1 L415.4,240.6 L416.3,241.1 L417.2,241.6 L418.0,242.2 L418.8,242.7 L419.5,243.3 L420.2,243.9 L420.8,244.4 L421.3,245.0 L421.7,245.5 L422.0,246.0 L422.2,246.5 L422.2,247.1 L422.2,247.6 L422.0,248.2 L421.8,248.8 L421.5,249.4 L421.1,249.9 L420.8,250.5 L420.3,251.1 L419.9,251.6 L419.5,252.1 L419.1,252.6 L418.7,253.0 L418.4,253.4 L418.2,253.7 L418.0,254.0" fill="none" stroke="currentColor" stroke-width="2.40" /><path d="M395.0,256.0 L395.6,256.1 L396.3,256.1 L397.2,256.1 L398.2,256.2 L399.2,256.2 L400.3,256.3 L401.5,256.3 L402.8,256.4 L404.0,256.5 L405.2,256.6 L406.5,256.7 L407.7,256.9 L408.9,257.1 L410.0,257.4 L411.0,257.7 L412.0,258.0 L412.9,258.4 L413.8,258.9 L414.8,259.4 L415.7,260.0 L416.7,260.6 L417.6,261.3 L418.5,261.9 L419.3,262.6 L420.1,263.3 L420.9,264.0 L421.6,264.8 L422.2,265.5 L422.8,266.1 L423.3,266.8 L423.7,267.4 L424.0,268.0 L424.2,268.6 L424.2,269.2 L424.2,269.7 L424.0,270.3 L423.8,270.9 L423.5,271.5 L423.1,272.1 L422.8,272.6 L422.3,273.2 L421.9,273.7 L421.5,274.2 L421.1,274.6 L420.7,275.0 L420.4,275.4 L420.2,275.7 L420.0,276.0" fill="none" stroke="currentColor" stroke-width="2.40" /><path d="M392.0,276.0 L392.5,276.1 L393.0,276.3 L393.7,276.4 L394.4,276.5 L395.2,276.7 L396.1,276.9 L396.9,277.0 L397.9,277.2 L398.8,277.5 L399.8,277.7 L400.7,278.0 L401.7,278.3 L402.6,278.7 L403.4,279.1 L404.2,279.5 L405.0,280.0 L405.7,280.5 L406.5,281.1 L407.3,281.8 L408.1,282.5 L408.9,283.3 L409.6,284.1 L410.4,284.9 L411.1,285.8 L411.8,286.6 L412.5,287.4 L413.1,288.3 L413.6,289.1 L414.1,289.9 L414.5,290.6 L414.8,291.3 L415.0,292.0 L415.1,292.6 L415.1,293.2 L414.9,293.9 L414.7,294.5 L414.4,295.1 L414.0,295.6 L413.6,296.2 L413.1,296.8 L412.6,297.3 L412.2,297.8 L411.7,298.2 L411.2,298.7 L410.8,299.1 L410.5,299.4 L410.2,299.7 L410.0,300.0" fill="none" stroke="currentColor" stroke-width="2.40" /><path d="M141.0,322.0 L141.6,324.0 L142.4,326.5 L143.3,329.4 L144.2,332.6 L145.2,336.1 L146.3,339.9 L147.5,343.8 L148.8,347.9 L150.0,352.1 L151.4,356.4 L152.8,360.6 L154.2,364.8 L155.6,368.9 L157.1,372.8 L158.5,376.5 L160.0,380.0 L161.5,383.3 L163.0,386.6 L164.6,389.7 L166.2,392.9 L167.9,396.0 L169.6,399.0 L171.3,402.1 L173.1,405.1 L174.9,408.0 L176.7,411.0 L178.5,414.0 L180.4,417.0 L182.3,419.9 L184.2,422.9 L186.1,426.0 L188.0,429.0 L189.9,432.1 L191.9,435.1 L193.9,438.2 L195.9,441.3 L198.0,444.4 L200.0,447.5 L202.1,450.5 L204.2,453.6 L206.4,456.7 L208.5,459.8 L210.7,462.8 L212.9,465.9 L215.2,468.9 L217.4,472.0 L219.7,475.0 L222.0,478.0 L224.3,481.0 L226.7,484.1 L229.2,487.1 L231.6,490.2 L234.1,493.2 L236.6,496.3 L239.2,499.3 L241.8,502.4 L244.3,505.4 L246.9,508.3 L249.4,511.3 L252.0,514.1 L254.5,517.0 L257.1,519.7 L259.5,522.4 L262.0,525.0 L264.5,527.6 L267.1,530.2 L269.8,532.8 L272.5,535.4 L275.3,538.0 L278.1,540.5 L280.8,543.0 L283.5,545.4 L286.1,547.8 L288.6,550.0 L291.0,552.1 L293.2,554.0 L295.3,555.8 L297.1,557.4 L298.7,558.8 L300.0,560.0" fill="none" stroke="currentColor" stroke-width="2.00" /><path d="M162.0,322.0 L163.0,323.9 L164.2,326.1 L165.5,328.7 L167.0,331.6 L168.7,334.7 L170.4,338.1 L172.3,341.7 L174.2,345.4 L176.2,349.2 L178.3,353.0 L180.3,356.9 L182.3,360.7 L184.4,364.5 L186.3,368.2 L188.2,371.7 L190.0,375.0 L191.7,378.2 L193.4,381.3 L195.0,384.3 L196.6,387.3 L198.2,390.3 L199.8,393.2 L201.4,396.2 L203.0,399.1 L204.6,402.1 L206.3,405.1 L208.1,408.2 L209.9,411.4 L211.8,414.6 L213.7,418.0 L215.8,421.4 L218.0,425.0 L220.4,428.8 L223.0,433.0 L225.9,437.5 L228.9,442.1 L232.0,446.9 L235.3,451.8 L238.5,456.7 L241.8,461.6 L244.9,466.4 L248.0,471.0 L251.0,475.4 L253.7,479.6 L256.2,483.3 L258.5,486.7 L260.4,489.6 L262.0,492.0" fill="none" stroke="currentColor" stroke-width="2.00" /><path d="M144.3,332.0 L149.5,317.8 M145.6,336.0 L150.9,321.6 M146.9,340.0 L153.7,321.6 M148.2,344.0 L153.3,330.1 M149.5,348.0 L155.8,330.7 M150.8,352.0 L156.7,335.4 M152.1,356.0 L158.8,336.7 M153.4,359.9 L158.9,344.0 M154.8,363.9 L159.7,349.1 M156.3,367.8 L160.8,353.6 M157.7,371.8 L162.4,356.6 M159.3,375.7 L162.8,363.4 M160.9,379.6 L164.4,366.2 M162.6,383.4 L165.8,369.7 M164.4,387.2 L167.7,372.1 M166.3,390.9 L170.0,372.0 M168.3,394.7 L171.9,374.2 M170.3,398.4 L172.8,382.8 M172.3,402.0 L174.5,387.3 M174.4,405.7 L176.5,390.6 M176.5,409.3 L178.8,391.3 M178.7,412.9 L180.7,396.2 M180.9,416.5 L182.4,402.8 M183.1,420.0 L184.9,402.9 M185.3,423.6 L186.9,408.6 M187.6,427.1 L189.0,413.2 M189.8,430.7 L191.7,411.4 M192.1,434.2 L193.3,420.7 M194.3,437.8 L195.8,421.4 M196.6,441.3 L198.2,422.1 M198.9,444.8 L200.3,427.5 M201.3,448.3 L202.7,428.2 M203.6,451.8 L204.6,436.4 M206.0,455.2 L207.2,434.5 M208.4,458.7 L209.1,445.6 M210.8,462.1 L211.7,441.8 M213.2,465.5 L213.9,449.2 M215.7,468.9 L216.1,456.2 M218.2,472.3 L218.6,457.4 M220.7,475.7 L221.1,454.5 M223.3,479.0 L223.4,460.2 M225.8,482.4 L225.9,463.3 M228.4,485.7 L228.3,466.0 M231.0,488.9 L230.9,476.1 M233.7,492.2 L233.4,476.9 M236.3,495.5 L235.9,478.8 M239.0,498.7 L238.4,478.2 M241.7,501.9 L240.9,481.5 M244.4,505.1 L243.8,491.1 M247.1,508.3 L246.1,487.2 M249.9,511.5 L248.9,494.1 M252.7,514.6 L251.7,499.3 M255.5,517.8 L254.5,504.4 M258.3,520.9 L257.0,504.6 M261.1,524.0 L259.6,506.9 M264.0,527.0 L262.4,510.5 M267.0,530.0 L265.2,514.8 M269.9,533.0 L267.2,512.4 M273.0,535.9 L270.5,519.3 M276.0,538.8 L273.6,523.6 M279.1,541.7 L275.9,522.6 M282.2,544.5 L279.6,529.9 M285.3,547.3 L282.4,531.2 M288.5,550.1 L286.0,536.7 M291.6,552.8 L288.9,538.3 M294.8,555.6 L290.8,534.8 M297.9,558.4 L294.6,540.7" fill="none" stroke="currentColor" stroke-width="1.30" /><path d="M166.1,331.6 L168.5,314.6 M168.2,335.3 L170.8,317.0 M170.3,338.9 L172.9,320.7 M172.4,342.6 L174.8,325.6 M174.4,346.2 L176.7,330.5 M176.5,349.9 L178.5,336.0 M178.6,353.5 L180.5,340.6 M180.7,357.2 L182.7,343.5 M182.8,360.8 L185.1,344.8 M184.9,364.4 L186.7,351.7 M186.9,368.1 L189.6,349.8 M189.0,371.7 L191.3,356.3 M191.1,375.4 L193.3,360.8 M193.2,379.1 L195.5,363.8 M195.2,382.7 L197.9,366.0 M197.2,386.4 L199.6,372.1 M199.2,390.1 L202.6,370.4 M201.2,393.8 L204.0,377.2 M203.2,397.5 L205.4,384.4 M205.2,401.2 L207.4,387.9 M207.2,404.9 L210.5,384.8 M209.2,408.6 L211.9,391.1 M211.3,412.2 L213.5,397.2 M213.4,415.9 L216.0,397.2 M215.5,419.5 L217.2,406.5 M217.6,423.1 L220.1,403.0 M219.8,426.7 L222.1,406.1 M222.0,430.3 L223.9,412.0 M224.3,433.8 L225.6,420.7 M226.5,437.4 L228.1,421.1 M228.8,440.9 L230.6,421.1 M231.1,444.4 L232.6,426.7 M233.4,447.9 L234.6,433.5 M235.7,451.4 L236.9,436.8 M238.0,455.0 L239.1,441.7 M240.3,458.5 L241.7,441.3 M242.6,462.0 L243.7,447.7 M245.0,465.5 L246.2,449.0 M247.3,468.9 L248.8,448.6 M249.6,472.4 L251.1,452.1 M252.0,475.9 L253.2,459.1 M254.3,479.4 L255.7,460.1 M256.6,482.9 L257.7,469.1 M259.0,486.4 L260.5,465.7 M261.3,489.9 L262.8,469.9" fill="none" stroke="currentColor" stroke-width="1.30" /><path d="M130.0,334.0 L137.7,322.4 M130.3,338.2 L139.6,324.3 M130.6,342.4 L137.5,331.9 M130.9,346.5 L140.4,332.0 M131.3,350.7 L138.1,339.9 M131.7,354.9 L140.5,340.4 M132.3,359.1 L140.4,344.9 M133.0,363.2 L141.1,348.3 M133.7,367.3 L140.9,353.6 M134.4,371.5 L139.4,361.7 M135.3,375.6 L140.7,364.4 M136.2,379.7 L142.6,366.0 M137.1,383.8 L144.1,368.4 M138.2,387.9 L144.2,373.8 M139.3,391.9 L143.4,381.9 M140.4,395.9 L145.2,383.9 M141.6,400.0 L146.2,387.9 M142.9,404.0 L146.9,392.9 M144.3,407.9 L148.2,396.5 M145.7,411.9 L150.0,398.5 M147.2,415.8 L151.0,403.3 M148.7,419.7 L152.1,407.8 M150.3,423.6 L153.8,410.7 M152.0,427.5 L156.2,410.9 M153.7,431.3 L157.1,417.0 M155.5,435.1 L158.9,419.7 M157.3,438.9 L160.7,422.2 M159.2,442.6 L161.2,432.1 M161.2,446.4 L164.0,429.9 M163.2,450.0 L164.9,439.0 M165.2,453.7 L166.9,441.9 M167.4,457.3 L169.3,441.7 M169.6,460.9 L171.3,445.2 M171.8,464.4 L173.2,449.7 M174.1,468.0 L175.2,454.2 M176.5,471.4 L177.4,455.9 M178.9,474.9 L179.5,461.4 M181.3,478.3 L181.7,466.4 M183.9,481.6 L184.0,469.6 M186.4,485.0 L186.4,473.7 M189.1,488.2 L188.8,477.5 M191.7,491.5 L191.1,474.3 M194.5,494.7 L193.6,477.5 M197.2,497.8 L196.4,484.9 M200.1,500.9 L199.0,487.6 M202.9,504.0 L201.7,491.6 M205.8,507.0 L204.0,491.1 M208.8,510.0 L207.0,496.2 M211.8,512.9 L210.1,501.3 M214.9,515.8 L212.2,499.3 M218.0,518.6 L215.0,501.9 M221.1,521.4 L219.1,510.8 M224.3,524.1 L221.5,510.7 M227.6,526.8 L224.9,515.0 M230.9,529.4 L227.3,514.9 M234.2,532.0 L230.9,519.4 M237.5,534.5 L234.2,522.4 M240.9,537.0 L237.4,524.9 M244.4,539.4 L240.0,525.3 M247.8,541.7 L243.4,528.5 M251.4,544.0 L246.6,530.9 M255.0,546.2 L249.5,531.9 M258.6,548.4 L253.5,535.5 M262.2,550.5 L255.8,534.6 M265.8,552.6 L260.8,540.0" fill="none" stroke="currentColor" stroke-width="1.20" /><path d="M220.8,328.2 L245.0,325.7 M221.5,337.2 L246.1,334.6 M223.6,346.1 L245.9,343.6 M225.0,355.1 L246.7,352.5 M225.6,364.0 L248.2,361.4 M227.0,372.9 L248.8,370.4 M229.8,382.0 L248.2,379.3 M231.1,391.8 L250.0,387.1 M235.5,402.2 L251.1,393.8" fill="none" stroke="currentColor" stroke-width="2.16" /><path d="M219.1,319.3 L220.2,328.2 L221.3,337.2 L222.5,346.2 L223.7,355.2 L225.0,364.1 L226.2,373.0 L227.5,382.3 L229.4,392.2 L233.4,403.3 L240.3,411.9 M244.9,316.7 L245.6,325.7 L246.4,334.6 L247.1,343.5 L248.0,352.4 L248.8,361.4 L249.6,370.3 L250.5,378.9 L251.6,386.7 L253.2,392.7 L257.5,398.1" fill="none" stroke="currentColor" stroke-width="2.20" /><path d="M261.1,408.0 L263.7,393.6 M265.3,410.4 L268.4,392.8 M269.9,410.3 L272.7,394.5 M274.3,410.9 L277.1,395.6 M278.8,411.1 L281.5,397.0 M283.2,411.9 L285.9,397.9 M287.3,414.1 L290.6,397.3 M291.8,414.2 L294.9,399.0 M296.2,415.3 L299.4,399.8 M300.4,416.7 L304.0,400.3 M304.7,418.1 L308.5,400.8 M309.2,418.5 L312.8,402.2 M313.8,418.4 L316.9,404.3 M317.8,421.0 L321.7,403.7 M322.6,420.2 L325.7,406.5 M326.7,422.0 L330.4,406.7 M331.0,423.1 L334.8,407.7 M335.5,423.4 L339.0,409.6 M339.5,425.7 L343.8,409.6 M343.9,426.2 L348.1,411.5 M348.0,427.6 L352.6,412.6 M352.6,427.7 L356.6,415.2 M356.3,430.4 L361.4,415.3 M360.9,430.7 L365.4,417.9 M364.9,432.8 L369.9,418.9 M369.0,434.5 L374.2,420.3 M373.5,435.2 L378.1,422.7 M377.7,436.6 L382.3,424.5 M381.9,438.3 L386.6,426.0 M385.6,441.0 L391.2,426.5 M390.1,442.0 L395.1,428.7" fill="none" stroke="currentColor" stroke-width="1.10" /><path d="M255.5,413.8 L259.9,414.5 L264.4,415.2 L268.8,415.9 L273.2,416.6 L277.6,417.3 L282.0,418.1 L286.4,418.8 L290.7,419.6 L295.1,420.4 L299.4,421.2 L303.8,422.1 L308.2,423.0 L312.6,423.8 L317.0,424.7 L321.3,425.6 L325.7,426.5 L330.0,427.4 L334.2,428.4 L338.5,429.4 L342.7,430.5 L346.8,431.6 L350.9,432.8 L355.1,434.1 L359.2,435.4 L363.4,436.8 L367.6,438.2 L371.8,439.7 L376.0,441.2 L380.2,442.7 L384.4,444.2 L388.7,445.7 L393.0,447.2 M260.5,386.2 L264.9,387.1 L269.3,388.0 L273.7,388.9 L278.2,389.8 L282.6,390.7 L287.1,391.7 L291.6,392.6 L296.0,393.6 L300.5,394.7 L304.9,395.7 L309.3,396.8 L313.7,397.8 L318.1,398.9 L322.6,399.9 L327.0,401.0 L331.4,402.2 L335.9,403.4 L340.3,404.6 L344.8,405.8 L349.3,407.2 L353.8,408.6 L358.2,410.1 L362.7,411.6 L367.0,413.2 L371.3,414.9 L375.6,416.5 L379.8,418.2 L384.0,419.9 L388.2,421.6 L392.4,423.3 L396.5,425.0 L400.7,426.6" fill="none" stroke="currentColor" stroke-width="2.20" /><path d="M286.7,444.0 L290.0,432.4 M291.0,445.4 L294.3,433.5 M295.3,446.7 L298.7,434.7 M299.8,447.2 L302.8,436.6 M304.2,448.1 L307.1,438.1 M308.6,449.3 L311.4,439.3 M312.7,451.3 L315.9,439.9 M317.0,452.5 L320.3,441.1 M321.2,454.2 L324.7,441.8 M325.7,454.9 L328.9,443.6 M330.0,456.4 L333.3,444.5 M334.2,457.8 L337.7,445.6 M338.8,458.2 L341.8,447.6 M343.2,459.3 L346.1,449.0 M347.5,460.5 L350.4,450.2 M351.9,461.6 L354.7,451.6 M356.0,463.3 L359.2,452.3 M360.5,464.2 L363.4,453.9 M365.0,464.8 L367.5,455.8 M369.0,467.1 L372.2,455.9 M373.5,467.7 L376.3,457.8 M377.8,469.2 L380.7,458.7 M382.2,470.1 L385.0,460.3 M386.5,471.3 L389.3,461.5 M390.9,472.5 L393.6,462.8" fill="none" stroke="currentColor" stroke-width="1.10" /><path d="M281.3,446.6 L285.6,447.8 L290.0,448.9 L294.3,450.1 L298.7,451.2 L303.0,452.4 L307.4,453.5 L311.7,454.7 L316.1,455.8 L320.4,457.0 L324.8,458.1 L329.1,459.3 L333.5,460.4 L337.8,461.6 L342.2,462.7 L346.5,463.9 L350.9,465.0 L355.2,466.2 L359.6,467.3 L363.9,468.5 L368.3,469.7 L372.6,470.8 L377.0,472.0 L381.3,473.1 L385.7,474.3 L390.0,475.4 L394.4,476.6 M286.7,427.4 L291.0,428.7 L295.3,430.0 L299.6,431.3 L304.0,432.6 L308.3,433.9 L312.6,435.2 L316.9,436.5 L321.2,437.8 L325.5,439.1 L329.8,440.4 L334.1,441.7 L338.4,443.0 L342.7,444.3 L347.1,445.6 L351.4,446.9 L355.7,448.2 L360.0,449.5 L364.3,450.8 L368.6,452.1 L372.9,453.4 L377.2,454.7 L381.5,456.0 L385.8,457.3 L390.1,458.6 L394.4,459.9 L398.8,461.2" fill="none" stroke="currentColor" stroke-width="2.20" /><path d="M264.9,469.3 L275.9,461.0 M267.3,472.5 L278.3,464.3 M268.8,476.4 L281.7,466.8 M271.9,479.1 L283.3,470.5 M274.8,482.0 L285.2,473.9 M276.3,486.0 L288.7,476.2 M279.1,489.1 L290.9,479.4 M281.9,492.3 L293.3,482.3 M285.3,494.9 L295.2,485.7 M288.7,497.5 L297.4,488.8 M290.9,501.2 L300.9,490.7 M294.7,503.2 L303.0,494.2 M297.2,506.5 L306.4,496.3 M300.3,509.1 L309.3,498.9 M303.9,511.1 L311.7,502.2 M307.3,513.3 L314.3,505.3" fill="none" stroke="currentColor" stroke-width="1.10" /><path d="M260.8,467.4 L263.3,470.5 L265.8,473.6 L268.3,476.8 L270.8,480.0 L273.4,483.1 L276.0,486.3 L278.7,489.4 L281.5,492.6 L284.4,495.7 L287.5,498.7 L290.6,501.5 L293.7,504.3 L296.8,506.9 L299.9,509.5 L303.0,512.1 L306.1,514.7 L309.2,517.2 M275.2,456.6 L277.5,459.8 L279.8,463.2 L282.1,466.4 L284.4,469.6 L286.7,472.8 L289.0,476.0 L291.3,479.0 L293.7,482.0 L296.1,484.9 L298.6,487.6 L301.2,490.4 L304.0,493.1 L306.8,495.8 L309.6,498.5 L312.5,501.2 L315.5,503.9 L318.4,506.7" fill="none" stroke="currentColor" stroke-width="2.20" /><path d="M338.7,337.3 L354.6,329.1 M340.0,340.7 L356.6,332.1 M342.2,343.6 L357.8,335.5 M343.0,347.2 L360.2,338.4 M346.3,349.5 L360.2,342.5 M346.9,353.2 L362.9,345.2 M349.2,356.0 L363.8,348.9 M350.4,359.2 L365.7,352.1 M352.5,362.1 L366.6,355.8 M354.0,365.1 L367.9,359.4 M354.7,368.6 L369.9,362.7 M355.9,371.8 L371.3,366.1 M356.5,375.3 L373.1,369.4 M358.4,378.4 L373.6,373.1 M359.9,381.7 L374.5,376.6 M360.8,385.3 L376.0,379.8 M362.2,388.7 L377.0,383.2 M364.0,392.0 L377.8,386.6 M365.8,395.3 L378.7,389.9 M366.5,399.1 L380.9,392.8 M368.6,402.2 L381.7,396.3 M370.9,405.2 L382.4,399.8 M372.2,408.5 L384.1,402.9 M373.5,412.0 L386.0,406.0 M374.5,415.5 L388.0,409.0 M376.2,418.7 L389.5,412.3" fill="none" stroke="currentColor" stroke-width="1.62" /><path d="M336.1,334.6 L337.8,337.8 L339.6,341.0 L341.3,344.1 L343.0,347.2 L344.7,350.3 L346.3,353.5 L348.0,356.6 L349.5,359.7 L351.0,362.7 L352.4,365.8 L353.7,368.9 L355.0,372.1 L356.3,375.4 L357.5,378.7 L358.8,382.1 L360.1,385.5 L361.4,389.0 L362.8,392.5 L364.3,395.9 L365.9,399.3 L367.5,402.7 L369.1,406.0 L370.7,409.3 L372.3,412.5 L373.9,415.8 L375.6,419.0 L377.2,422.2 M353.9,325.4 L355.5,328.6 L357.0,331.8 L358.7,335.1 L360.3,338.3 L361.9,341.6 L363.4,344.9 L365.0,348.3 L366.6,351.7 L368.1,355.2 L369.5,358.7 L370.9,362.3 L372.1,365.8 L373.3,369.3 L374.4,372.8 L375.6,376.2 L376.7,379.6 L377.8,382.9 L379.0,386.1 L380.2,389.3 L381.5,392.5 L382.8,395.7 L384.2,399.0 L385.7,402.2 L387.1,405.5 L388.6,408.7 L390.1,412.0 L391.6,415.3" fill="none" stroke="currentColor" stroke-width="2.20" /><path d="M330.0,342.0 L330.3,342.5 L330.6,343.1 L330.9,343.9 L331.3,344.8 L331.8,345.7 L332.2,346.7 L332.7,347.7 L333.2,348.8 L333.8,349.8 L334.4,350.9 L334.9,351.9 L335.5,352.9 L336.1,353.8 L336.8,354.6 L337.4,355.4 L338.0,356.0 L338.7,356.6 L339.4,357.1 L340.2,357.6 L341.1,358.0 L342.0,358.5 L343.0,358.8 L343.9,359.2 L344.8,359.5 L345.7,359.8 L346.6,360.0 L347.4,360.1 L348.1,360.2 L348.7,360.3 L349.3,360.2 L349.7,360.2 L350.0,360.0 L350.1,359.7 L350.2,359.4 L350.0,358.8 L349.8,358.2 L349.5,357.6 L349.2,356.8 L348.7,356.1 L348.2,355.2 L347.8,354.4 L347.3,353.6 L346.8,352.9 L346.3,352.1 L345.9,351.5 L345.5,350.9 L345.2,350.4 L345.0,350.0" fill="none" stroke="currentColor" stroke-width="2.40" /><path d="M318.0,330.0 L318.1,330.7 L318.2,331.5 L318.4,332.5 L318.5,333.6 L318.7,334.8 L318.8,336.0 L319.0,337.4 L319.2,338.8 L319.4,340.1 L319.7,341.5 L320.0,342.8 L320.3,344.1 L320.6,345.2 L321.0,346.3 L321.5,347.2 L322.0,348.0 L322.6,348.6 L323.3,349.2 L324.1,349.7 L324.9,350.1 L325.8,350.4 L326.8,350.7 L327.8,350.9 L328.8,351.1 L329.7,351.3 L330.7,351.4 L331.6,351.5 L332.5,351.6 L333.2,351.7 L333.9,351.8 L334.5,351.9 L335.0,352.0" fill="none" stroke="currentColor" stroke-width="2.20" /><path d="M370.0,322.0 L370.3,322.8 L370.6,323.8 L370.9,325.0 L371.2,326.3 L371.6,327.8 L372.0,329.3 L372.5,330.9 L372.9,332.6 L373.4,334.3 L374.0,336.0 L374.6,337.6 L375.2,339.3 L375.8,340.9 L376.5,342.4 L377.2,343.7 L378.0,345.0 L378.8,346.2 L379.7,347.3 L380.7,348.5 L381.7,349.6 L382.7,350.7 L383.8,351.8 L384.9,352.8 L386.1,353.8 L387.2,354.8 L388.4,355.7 L389.5,356.5 L390.7,357.4 L391.8,358.1 L392.9,358.8 L394.0,359.4 L395.0,360.0 L396.0,360.5 L397.1,360.9 L398.2,361.2 L399.2,361.5 L400.3,361.7 L401.4,361.8 L402.5,361.9 L403.6,361.9 L404.6,362.0 L405.6,362.0 L406.5,362.0 L407.4,361.9 L408.1,361.9 L408.9,361.9 L409.5,362.0 L410.0,362.0" fill="none" stroke="currentColor" stroke-width="2.20" /><path d="M395.0,395.0 L395.5,395.5 L396.2,396.1 L397.0,396.8 L397.8,397.6 L398.7,398.4 L399.7,399.3 L400.8,400.3 L401.9,401.2 L403.0,402.3 L404.1,403.3 L405.2,404.4 L406.2,405.5 L407.3,406.7 L408.3,407.8 L409.2,408.9 L410.0,410.0 L410.8,411.1 L411.6,412.3 L412.4,413.6 L413.3,414.9 L414.1,416.2 L414.9,417.6 L415.7,418.9 L416.4,420.3 L417.1,421.7 L417.8,423.0 L418.4,424.3 L418.9,425.6 L419.3,426.8 L419.6,427.9 L419.9,429.0 L420.0,430.0 L420.0,430.9 L419.8,431.8 L419.5,432.6 L419.1,433.4 L418.6,434.2 L418.0,434.9 L417.3,435.6 L416.6,436.2 L415.9,436.9 L415.2,437.4 L414.5,437.9 L413.9,438.4 L413.3,438.9 L412.7,439.3 L412.3,439.7 L412.0,440.0" fill="none" stroke="currentColor" stroke-width="2.20" /><path d="M585.0,225.0 L585.9,224.9 L586.9,224.7 L588.1,224.4 L589.4,224.2 L590.8,223.8 L592.3,223.5 L593.9,223.2 L595.6,222.9 L597.4,222.6 L599.2,222.3 L601.0,222.1 L602.8,221.9 L604.6,221.8 L606.5,221.8 L608.3,221.8 L610.0,222.0 L611.8,222.3 L613.6,222.6 L615.5,223.0 L617.5,223.4 L619.5,223.9 L621.5,224.4 L623.6,225.0 L625.6,225.7 L627.6,226.4 L629.6,227.1 L631.6,227.8 L633.4,228.6 L635.2,229.4 L636.9,230.3 L638.5,231.1 L640.0,232.0 L641.4,232.9 L642.7,234.0 L644.0,235.1 L645.2,236.4 L646.3,237.6 L647.4,239.0 L648.4,240.3 L649.4,241.6 L650.3,242.9 L651.1,244.2 L651.9,245.4 L652.7,246.6 L653.3,247.6 L653.9,248.6 L654.5,249.4 L655.0,250.0" fill="none" stroke="currentColor" stroke-width="2.00" /><path d="M590.0,228.0 L596.0,242.0 M594.2,229.2 L600.2,243.2 M598.4,230.4 L604.4,244.4 M602.6,231.6 L608.6,245.6 M606.8,232.8 L612.8,246.8 M611.0,234.0 L617.0,248.0 M615.2,235.2 L621.2,249.2 M619.4,236.4 L625.4,250.4 M623.6,237.6 L629.6,251.6 M627.8,238.8 L633.8,252.8 M632.0,240.0 L638.0,254.0 M636.2,241.2 L642.2,255.2 M640.4,242.4 L646.4,256.4 M644.6,243.6 L650.6,257.6" fill="none" stroke="currentColor" stroke-width="1.80" /><path d="M578.0,262.0 L578.8,261.5 L579.6,260.9 L580.6,260.2 L581.8,259.4 L583.0,258.5 L584.3,257.5 L585.7,256.5 L587.1,255.5 L588.6,254.5 L590.2,253.6 L591.8,252.7 L593.4,251.9 L595.1,251.2 L596.7,250.6 L598.4,250.2 L600.0,250.0 L601.7,249.9 L603.4,249.9 L605.3,250.1 L607.2,250.3 L609.2,250.6 L611.2,250.9 L613.2,251.4 L615.2,251.9 L617.3,252.5 L619.3,253.1 L621.2,253.8 L623.2,254.5 L625.0,255.3 L626.8,256.2 L628.4,257.1 L630.0,258.0 L631.5,259.0 L632.9,260.2 L634.4,261.6 L635.8,263.0 L637.1,264.6 L638.4,266.2 L639.7,267.8 L640.9,269.5 L642.0,271.1 L643.1,272.7 L644.1,274.3 L645.0,275.7 L645.9,277.0 L646.7,278.2 L647.4,279.2 L648.0,280.0" fill="none" stroke="currentColor" stroke-width="1.80" /><path d="M560.0,240.0 L560.5,241.1 L561.2,242.3 L561.9,243.8 L562.7,245.4 L563.6,247.2 L564.5,249.1 L565.5,251.0 L566.6,253.1 L567.6,255.3 L568.7,257.4 L569.8,259.6 L570.9,261.8 L572.0,263.9 L573.0,266.0 L574.0,268.1 L575.0,270.0 L575.9,271.9 L576.9,273.8 L577.9,275.7 L578.9,277.7 L579.9,279.6 L580.8,281.6 L581.8,283.6 L582.8,285.5 L583.8,287.4 L584.7,289.3 L585.7,291.2 L586.6,293.1 L587.5,294.9 L588.4,296.6 L589.2,298.3 L590.0,300.0 L590.8,301.6 L591.6,303.3 L592.3,304.9 L593.1,306.6 L593.8,308.2 L594.6,309.8 L595.3,311.4 L595.9,312.9 L596.6,314.3 L597.2,315.7 L597.8,317.0 L598.3,318.2 L598.8,319.4 L599.3,320.4 L599.7,321.2 L600.0,322.0" fill="none" stroke="currentColor" stroke-width="1.60" /><path d="M640.0,290.0 L640.4,290.5 L640.8,291.1 L641.3,291.9 L641.9,292.6 L642.6,293.5 L643.2,294.4 L644.0,295.4 L644.7,296.4 L645.4,297.5 L646.2,298.6 L646.9,299.7 L647.6,300.8 L648.3,301.8 L648.9,302.9 L649.5,304.0 L650.0,305.0 L650.5,306.0 L650.9,307.1 L651.3,308.3 L651.7,309.5 L652.1,310.7 L652.5,312.0 L652.8,313.2 L653.1,314.4 L653.4,315.6 L653.7,316.8 L654.0,317.9 L654.2,318.9 L654.4,319.8 L654.6,320.7 L654.8,321.4 L655.0,322.0" fill="none" stroke="currentColor" stroke-width="1.60" /><path d="M555.0,215.0 L556.1,214.6 L557.3,214.1 L558.8,213.5 L560.4,212.8 L562.2,212.0 L564.1,211.2 L566.0,210.4 L568.1,209.6 L570.3,208.7 L572.4,207.9 L574.6,207.2 L576.8,206.5 L578.9,206.0 L581.0,205.5 L583.1,205.2 L585.0,205.0 L586.9,205.0 L589.0,205.1 L591.1,205.4 L593.2,205.7 L595.4,206.2 L597.6,206.7 L599.7,207.3 L601.9,207.9 L604.0,208.5 L605.9,209.1 L607.8,209.8 L609.6,210.3 L611.2,210.9 L612.7,211.3 L613.9,211.7 L615.0,212.0" fill="none" stroke="currentColor" stroke-width="1.60" /><path d="M397.2,412.2 L407.7,404.6 M399.3,415.9 L410.6,407.8 M402.5,418.7 L412.2,411.8 M404.9,422.0 L414.6,415.3 M406.7,425.8 L417.6,418.5 M409.1,429.1 L419.7,422.3 M411.7,432.3 L421.5,426.1 M413.4,436.2 L424.4,429.4 M416.9,439.0 L425.3,433.7 M418.5,443.0 L428.2,436.8 M420.5,446.8 L430.7,440.1 M422.9,450.3 L432.9,443.6 M426.3,453.2 L434.3,447.6 M428.1,457.2 L437.4,450.4 M431.1,460.3 L439.4,454.0 M433.3,464.0 L442.4,457.0 M436.7,466.7 L444.2,460.8 M439.1,470.3 L447.1,463.9" fill="none" stroke="currentColor" stroke-width="1.62" /><path d="M393.9,409.4 L396.5,412.7 L399.0,416.1 L401.5,419.4 L403.9,422.7 L406.3,426.0 L408.6,429.4 L410.9,432.8 L413.2,436.3 L415.6,439.8 L417.9,443.4 L420.3,446.9 L422.7,450.4 L425.3,453.9 L427.9,457.4 L430.6,460.8 L433.3,464.1 L436.0,467.3 L438.7,470.6 L441.4,473.8 M406.1,400.6 L408.5,404.1 L410.8,407.6 L413.2,411.1 L415.6,414.7 L417.9,418.3 L420.2,422.0 L422.4,425.6 L424.5,429.3 L426.6,432.9 L428.8,436.4 L430.9,440.0 L433.1,443.5 L435.3,446.9 L437.6,450.2 L440.0,453.6 L442.4,456.9 L444.9,460.2 L447.4,463.6 L450.0,466.9" fill="none" stroke="currentColor" stroke-width="2.20" /><path d="M444.0,470.0 L444.4,470.4 L444.9,470.9 L445.5,471.6 L446.2,472.3 L446.9,473.1 L447.6,473.9 L448.4,474.8 L449.2,475.7 L450.1,476.6 L451.0,477.4 L451.8,478.2 L452.7,479.0 L453.6,479.6 L454.4,480.2 L455.2,480.7 L456.0,481.0 L456.8,481.2 L457.5,481.3 L458.3,481.4 L459.1,481.4 L460.0,481.3 L460.8,481.1 L461.6,480.9 L462.4,480.7 L463.2,480.4 L463.9,480.1 L464.7,479.8 L465.4,479.4 L466.1,479.1 L466.8,478.7 L467.4,478.4 L468.0,478.0 L468.6,477.6 L469.1,477.2 L469.6,476.7 L470.1,476.2 L470.5,475.6 L471.0,475.0 L471.4,474.4 L471.8,473.8 L472.1,473.2 L472.5,472.6 L472.8,472.1 L473.1,471.6 L473.3,471.1 L473.6,470.7 L473.8,470.3 L474.0,470.0" fill="none" stroke="currentColor" stroke-width="2.40" /><path d="M432.0,452.0 L432.4,451.8 L433.0,451.6 L433.6,451.4 L434.2,451.1 L435.0,450.9 L435.8,450.6 L436.6,450.3 L437.5,449.9 L438.4,449.6 L439.3,449.2 L440.1,448.9 L441.0,448.5 L441.8,448.1 L442.6,447.8 L443.3,447.4 L444.0,447.0 L444.6,446.6 L445.2,446.2 L445.9,445.8 L446.5,445.4 L447.1,445.0 L447.6,444.6 L448.2,444.1 L448.8,443.7 L449.3,443.2 L449.8,442.8 L450.2,442.3 L450.7,441.9 L451.1,441.4 L451.4,440.9 L451.7,440.5 L452.0,440.0 L452.2,439.5 L452.4,439.0 L452.5,438.4 L452.6,437.9 L452.6,437.3 L452.6,436.7 L452.6,436.1 L452.5,435.6 L452.4,435.0 L452.4,434.5 L452.3,433.9 L452.2,433.5 L452.1,433.0 L452.1,432.6 L452.0,432.3 L452.0,432.0" fill="none" stroke="currentColor" stroke-width="2.40" /><path d="M396.0,455.0 L396.5,455.2 L397.1,455.5 L397.8,455.9 L398.7,456.2 L399.5,456.6 L400.5,457.1 L401.5,457.5 L402.5,458.0 L403.5,458.5 L404.6,459.0 L405.6,459.5 L406.6,460.0 L407.5,460.5 L408.4,461.0 L409.3,461.5 L410.0,462.0 L410.7,462.5 L411.3,463.0 L412.0,463.6 L412.6,464.1 L413.2,464.7 L413.8,465.3 L414.3,465.9 L414.9,466.4 L415.4,467.0 L415.8,467.5 L416.3,468.1 L416.7,468.5 L417.1,469.0 L417.4,469.4 L417.7,469.7 L418.0,470.0" fill="none" stroke="currentColor" stroke-width="2.00" /><path d="M395.0,478.0 L395.9,477.8 L397.0,477.4 L398.2,477.0 L399.6,476.5 L401.1,476.0 L402.8,475.5 L404.5,474.9 L406.2,474.4 L408.1,473.8 L409.9,473.3 L411.7,472.9 L413.5,472.5 L415.3,472.2 L416.9,472.0 L418.5,471.9 L420.0,472.0 L421.4,472.2 L422.8,472.5 L424.1,472.9 L425.5,473.5 L426.8,474.1 L428.1,474.8 L429.4,475.5 L430.6,476.2 L431.9,477.0 L433.1,477.8 L434.3,478.6 L435.5,479.4 L436.6,480.1 L437.8,480.8 L438.9,481.5 L440.0,482.0 L441.1,482.5 L442.2,483.0 L443.3,483.5 L444.5,483.9 L445.6,484.4 L446.7,484.8 L447.7,485.2 L448.8,485.6 L449.7,486.0 L450.7,486.4 L451.6,486.7 L452.4,487.0 L453.2,487.3 L453.9,487.6 L454.5,487.8 L455.0,488.0" fill="none" stroke="currentColor" stroke-width="2.00" /><path d="M600.0,322.0 L599.8,323.3 L599.6,325.0 L599.4,326.8 L599.2,328.9 L599.0,331.2 L598.7,333.6 L598.4,336.2 L598.1,338.8 L597.8,341.5 L597.5,344.3 L597.1,347.1 L596.7,349.8 L596.3,352.5 L595.9,355.1 L595.5,357.6 L595.0,360.0 L594.5,362.3 L593.9,364.8 L593.3,367.2 L592.6,369.8 L591.9,372.3 L591.2,374.9 L590.4,377.4 L589.7,379.9 L589.0,382.3 L588.2,384.6 L587.6,386.7 L586.9,388.8 L586.3,390.6 L585.8,392.3 L585.4,393.8 L585.0,395.0" fill="none" stroke="currentColor" stroke-width="2.00" stroke-dasharray="8 3"/><path d="M625.0,322.0 L624.9,323.3 L624.8,324.9 L624.7,326.7 L624.6,328.8 L624.5,331.0 L624.4,333.4 L624.3,335.9 L624.1,338.5 L624.0,341.2 L623.8,343.9 L623.6,346.7 L623.3,349.5 L623.0,352.2 L622.7,354.9 L622.4,357.5 L622.0,360.0 L621.5,362.5 L621.0,365.2 L620.4,367.9 L619.8,370.8 L619.1,373.7 L618.3,376.6 L617.6,379.5 L616.8,382.4 L616.1,385.2 L615.3,387.8 L614.6,390.4 L614.0,392.8 L613.4,394.9 L612.8,396.9 L612.4,398.6 L612.0,400.0" fill="none" stroke="currentColor" stroke-width="2.00" stroke-dasharray="8 3"/><path d="M650.0,322.0 L649.8,323.1 L649.6,324.5 L649.4,326.1 L649.2,327.8 L649.0,329.7 L648.7,331.8 L648.4,333.9 L648.1,336.2 L647.8,338.5 L647.5,340.9 L647.1,343.3 L646.7,345.7 L646.3,348.1 L645.9,350.5 L645.5,352.8 L645.0,355.0 L644.5,357.3 L643.9,359.7 L643.3,362.2 L642.6,364.8 L641.9,367.5 L641.2,370.2 L640.4,372.9 L639.7,375.6 L639.0,378.2 L638.2,380.7 L637.6,383.0 L636.9,385.3 L636.3,387.3 L635.8,389.1 L635.4,390.7 L635.0,392.0" fill="none" stroke="currentColor" stroke-width="2.00" stroke-dasharray="8 3"/><path d="M585.0,395.0 L585.5,395.3 L586.1,395.6 L586.7,396.0 L587.5,396.5 L588.2,397.0 L589.1,397.5 L590.0,398.1 L590.9,398.6 L591.9,399.2 L593.0,399.7 L594.1,400.2 L595.2,400.7 L596.4,401.1 L597.5,401.5 L598.8,401.8 L600.0,402.0 L601.3,402.1 L602.6,402.3 L604.1,402.4 L605.5,402.4 L607.1,402.5 L608.6,402.5 L610.2,402.4 L611.9,402.4 L613.5,402.3 L615.2,402.1 L616.9,401.9 L618.5,401.6 L620.2,401.3 L621.8,400.9 L623.4,400.5 L625.0,400.0 L626.6,399.4 L628.3,398.6 L630.0,397.8 L631.8,396.8 L633.7,395.8 L635.5,394.7 L637.3,393.5 L639.1,392.4 L640.8,391.2 L642.5,390.1 L644.0,389.0 L645.5,388.0 L646.9,387.1 L648.1,386.2 L649.1,385.5 L650.0,385.0" fill="none" stroke="currentColor" stroke-width="2.20" /><path d="M560.0,335.0 L560.9,335.7 L562.0,336.6 L563.3,337.6 L564.7,338.7 L566.3,339.9 L568.0,341.2 L569.7,342.5 L571.6,343.9 L573.4,345.4 L575.3,346.8 L577.1,348.3 L578.9,349.7 L580.6,351.2 L582.2,352.5 L583.7,353.8 L585.0,355.0 L586.2,356.2 L587.5,357.4 L588.6,358.6 L589.8,359.9 L590.9,361.1 L592.0,362.3 L593.1,363.6 L594.1,364.8 L595.0,365.9 L595.9,367.0 L596.8,368.0 L597.5,369.0 L598.3,369.9 L598.9,370.7 L599.5,371.4 L600.0,372.0" fill="none" stroke="currentColor" stroke-width="1.80" /></g></defs><use href="#art" clip-path="url(#q_blue)" style="color:#0000b4"/><use href="#art" clip-path="url(#q_yellow)" style="color:#857200"/><use href="#art" clip-path="url(#q_red)" style="color:#a80000"/><use href="#art" clip-path="url(#q_green)" style="color:#1a5410"/><line x1="116.00" y1="320.90" x2="675.00" y2="320.90" stroke="#111" stroke-width="1.6"/><line x1="395.40" y1="41.00" x2="395.40" y2="600.00" stroke="#111" stroke-width="1.6"/><circle cx="395.50" cy="320.50" r="279.50" fill="none" stroke="#141414" stroke-width="2.4"/><g font-weight="bold"><text x="262.00" y="99.70" fill="#000028" stroke="#000028" stroke-width="0.45" textLength="101.80" lengthAdjust="spacingAndGlyphs" ><tspan font-size="18.90">C</tspan><tspan font-size="14.36">ONSIDER</tspan></text><text x="241.70" y="123.20" fill="#000028" stroke="#000028" stroke-width="0.45" textLength="144.60" lengthAdjust="spacingAndGlyphs" ><tspan font-size="18.90">A</tspan><tspan font-size="14.36">LTERNATIVES</tspan></text><text x="200.00" y="173.10" fill="#000028" stroke="#000028" stroke-width="0.45" textLength="73.80" lengthAdjust="spacingAndGlyphs" ><tspan font-size="18.90">D</tspan><tspan font-size="14.36">ESIGN</tspan></text><text x="179.20" y="196.30" fill="#000028" stroke="#000028" stroke-width="0.45" textLength="116.40" lengthAdjust="spacingAndGlyphs" ><tspan font-size="18.90">S</tspan><tspan font-size="14.36">TRATEGIES</tspan></text><text x="132.70" y="278.80" fill="#000028" stroke="#000028" stroke-width="0.45" textLength="98.60" lengthAdjust="spacingAndGlyphs" ><tspan font-size="18.90">T</tspan><tspan font-size="14.36">EST</tspan><tspan font-size="14.36"> </tspan><tspan font-size="14.36">A</tspan><tspan font-size="14.36">ND</tspan></text><text x="154.00" y="302.50" fill="#000028" stroke="#000028" stroke-width="0.45" textLength="57.60" lengthAdjust="spacingAndGlyphs" ><tspan font-size="18.90">T</tspan><tspan font-size="14.36">RIAL</tspan></text><text x="435.10" y="91.20" fill="#3a3000" stroke="#3a3000" stroke-width="0.45" textLength="81.30" lengthAdjust="spacingAndGlyphs" ><tspan font-size="18.90">G</tspan><tspan font-size="14.36">ATHER</tspan></text><text x="408.90" y="115.00" fill="#3a3000" stroke="#3a3000" stroke-width="0.45" textLength="134.20" lengthAdjust="spacingAndGlyphs" ><tspan font-size="18.90">I</tspan><tspan font-size="14.36">NFORMATION</tspan></text><text x="537.60" y="171.80" fill="#3a3000" stroke="#3a3000" stroke-width="0.45" textLength="66.20" lengthAdjust="spacingAndGlyphs" ><tspan font-size="18.90">S</tspan><tspan font-size="14.36">HARE</tspan></text><text x="510.10" y="196.30" fill="#3a3000" stroke="#3a3000" stroke-width="0.45" textLength="122.10" lengthAdjust="spacingAndGlyphs" ><tspan font-size="18.90">M</tspan><tspan font-size="14.36">OTIVATION</tspan></text><text x="575.10" y="276.50" fill="#3a3000" stroke="#3a3000" stroke-width="0.45" textLength="49.30" lengthAdjust="spacingAndGlyphs" ><tspan font-size="18.90">N</tspan><tspan font-size="14.36">EW</tspan></text><text x="541.10" y="301.00" fill="#3a3000" stroke="#3a3000" stroke-width="0.45" textLength="125.80" lengthAdjust="spacingAndGlyphs" ><tspan font-size="18.90">A</tspan><tspan font-size="14.36">WARENESS</tspan></text><text x="178.90" y="349.30" fill="#3a0000" stroke="#3a0000" stroke-width="0.45" textLength="62.30" lengthAdjust="spacingAndGlyphs" ><tspan font-size="18.90">S</tspan><tspan font-size="14.36">TART</tspan></text><text x="126.80" y="374.30" fill="#3a0000" stroke="#3a0000" stroke-width="0.45" textLength="166.60" lengthAdjust="spacingAndGlyphs" ><tspan font-size="18.90">I</tspan><tspan font-size="14.36">MPLEMENTATION</tspan></text><text x="183.20" y="455.00" fill="#3a0000" stroke="#3a0000" stroke-width="0.45" textLength="88.00" lengthAdjust="spacingAndGlyphs" ><tspan font-size="18.90">M</tspan><tspan font-size="14.36">ANAGE</tspan></text><text x="277.60" y="522.70" fill="#3a0000" stroke="#3a0000" stroke-width="0.45" textLength="77.60" lengthAdjust="spacingAndGlyphs" ><tspan font-size="18.90">I</tspan><tspan font-size="14.36">NSTALL</tspan></text><text x="253.90" y="546.90" fill="#3a0000" stroke="#3a0000" stroke-width="0.45" textLength="125.90" lengthAdjust="spacingAndGlyphs" ><tspan font-size="18.90">M</tspan><tspan font-size="14.36">ONITORING</tspan></text><text x="561.40" y="360.80" fill="#0c2600" stroke="#0c2600" stroke-width="0.45" textLength="70.00" lengthAdjust="spacingAndGlyphs" ><tspan font-size="18.90">W</tspan><tspan font-size="14.36">IDEN</tspan></text><text x="532.00" y="385.40" fill="#0c2600" stroke="#0c2600" stroke-width="0.45" textLength="128.70" lengthAdjust="spacingAndGlyphs" ><tspan font-size="18.90">P</tspan><tspan font-size="14.36">ERSPECTIVE</tspan></text><text x="499.10" y="464.70" fill="#0c2600" stroke="#0c2600" stroke-width="0.45" textLength="102.50" lengthAdjust="spacingAndGlyphs" ><tspan font-size="18.90">E</tspan><tspan font-size="14.36">VALUATE</tspan></text><text x="495.60" y="488.60" fill="#0c2600" stroke="#0c2600" stroke-width="0.45" textLength="110.40" lengthAdjust="spacingAndGlyphs" ><tspan font-size="18.90">O</tspan><tspan font-size="14.36">UTCOMES</tspan></text><text x="416.80" y="541.20" fill="#0c2600" stroke="#0c2600" stroke-width="0.45" textLength="105.10" lengthAdjust="spacingAndGlyphs" ><tspan font-size="18.90">P</tspan><tspan font-size="14.36">ERSONAL</tspan></text><text x="429.10" y="563.40" fill="#0c2600" stroke="#0c2600" stroke-width="0.45" textLength="88.70" lengthAdjust="spacingAndGlyphs" ><tspan font-size="18.90">G</tspan><tspan font-size="14.36">ROWTH</tspan></text><text x="351.80" y="24.90" fill="#222" stroke="#222" stroke-width="0.45" textLength="86.00" lengthAdjust="spacingAndGlyphs" ><tspan font-size="21.80">T</tspan><tspan font-size="17.01">HEORY</tspan></text><text x="340.60" y="634.30" fill="#222" stroke="#222" stroke-width="0.45" textLength="103.20" lengthAdjust="spacingAndGlyphs" ><tspan font-size="21.80">P</tspan><tspan font-size="17.01">RACTICE</tspan></text></g><text x="363.60" y="329.5" font-size="26.45" fill="#000" stroke="#000" stroke-width="0.9" textLength="155.30" lengthAdjust="spacingAndGlyphs">STILLNESS</text><text x="0.00" y="209.30" font-size="21.08" font-weight="bold" fill="#222" text-anchor="middle" transform="translate(26.60 0) scale(1.25 1) translate(0.00 0)">E</text><text x="0.00" y="234.30" font-size="14.83" font-weight="bold" fill="#222" text-anchor="middle" transform="translate(26.60 0) scale(1.25 1) translate(0.00 0)">N</text><text x="0.00" y="258.20" font-size="14.83" font-weight="bold" fill="#222" text-anchor="middle" transform="translate(26.60 0) scale(1.25 1) translate(0.00 0)">V</text><text x="0.00" y="282.20" font-size="14.83" font-weight="bold" fill="#222" text-anchor="middle" transform="translate(26.60 0) scale(1.25 1) translate(0.00 0)">I</text><text x="0.00" y="306.10" font-size="14.83" font-weight="bold" fill="#222" text-anchor="middle" transform="translate(26.60 0) scale(1.25 1) translate(0.00 0)">R</text><text x="0.00" y="331.50" font-size="14.83" font-weight="bold" fill="#222" text-anchor="middle" transform="translate(26.60 0) scale(1.25 1) translate(0.00 0)">O</text><text x="0.00" y="356.40" font-size="14.83" font-weight="bold" fill="#222" text-anchor="middle" transform="translate(26.60 0) scale(1.25 1) translate(0.00 0)">N</text><text x="0.00" y="380.60" font-size="14.83" font-weight="bold" fill="#222" text-anchor="middle" transform="translate(26.60 0) scale(1.25 1) translate(0.00 0)">M</text><text x="0.00" y="405.40" font-size="14.83" font-weight="bold" fill="#222" text-anchor="middle" transform="translate(26.60 0) scale(1.25 1) translate(0.00 0)">E</text><text x="0.00" y="429.60" font-size="14.83" font-weight="bold" fill="#222" text-anchor="middle" transform="translate(26.60 0) scale(1.25 1) translate(0.00 0)">N</text><text x="0.00" y="452.90" font-size="14.83" font-weight="bold" fill="#222" text-anchor="middle" transform="translate(26.60 0) scale(1.25 1) translate(0.00 0)">T</text><text x="0.00" y="223.60" font-size="21.08" font-weight="bold" fill="#222" text-anchor="middle" transform="translate(767.20 0) scale(1.25 1) translate(0.00 0)">I</text><text x="0.00" y="248.60" font-size="14.83" font-weight="bold" fill="#222" text-anchor="middle" transform="translate(767.20 0) scale(1.25 1) translate(0.00 0)">N</text><text x="0.00" y="272.80" font-size="14.83" font-weight="bold" fill="#222" text-anchor="middle" transform="translate(767.20 0) scale(1.25 1) translate(0.00 0)">D</text><text x="0.00" y="296.70" font-size="14.83" font-weight="bold" fill="#222" text-anchor="middle" transform="translate(767.20 0) scale(1.25 1) translate(0.00 0)">I</text><text x="0.00" y="320.30" font-size="14.83" font-weight="bold" fill="#222" text-anchor="middle" transform="translate(767.20 0) scale(1.25 1) translate(0.00 0)">V</text><text x="0.00" y="346.00" font-size="14.83" font-weight="bold" fill="#222" text-anchor="middle" transform="translate(767.20 0) scale(1.25 1) translate(0.00 0)">I</text><text x="0.00" y="369.60" font-size="14.83" font-weight="bold" fill="#222" text-anchor="middle" transform="translate(767.20 0) scale(1.25 1) translate(0.00 0)">D</text><text x="0.00" y="393.80" font-size="14.83" font-weight="bold" fill="#222" text-anchor="middle" transform="translate(767.20 0) scale(1.25 1) translate(0.00 0)">U</text><text x="0.00" y="418.10" font-size="14.83" font-weight="bold" fill="#222" text-anchor="middle" transform="translate(767.20 0) scale(1.25 1) translate(0.00 0)">A</text><text x="0.00" y="441.30" font-size="14.83" font-weight="bold" fill="#222" text-anchor="middle" transform="translate(767.20 0) scale(1.25 1) translate(0.00 0)">L</text><text font-size="34.00" fill="#0000c8" stroke="#0000c8" stroke-width="1.1"><textPath href="#p_PLAN" startOffset="0.00" textLength="93.00" lengthAdjust="spacing">PLAN</textPath></text><text font-size="34.00" fill="#ffff00" stroke="#ffff00" stroke-width="1.7"><textPath href="#p_DREAM" startOffset="0.00" textLength="127.00" lengthAdjust="spacing">DREAM</textPath></text><text font-size="33.00" fill="#e01010" stroke="#e01010" stroke-width="1.1"><textPath href="#p_DO" startOffset="0.00" textLength="57.00" lengthAdjust="spacing">DO</textPath></text><text font-size="34.50" fill="#1a8a1a" stroke="#1a8a1a" stroke-width="1.5"><textPath href="#p_CELEBRATE" startOffset="0.00" textLength="224.00" lengthAdjust="spacing">CELEBRATE</textPath></text></svg></body></html>
